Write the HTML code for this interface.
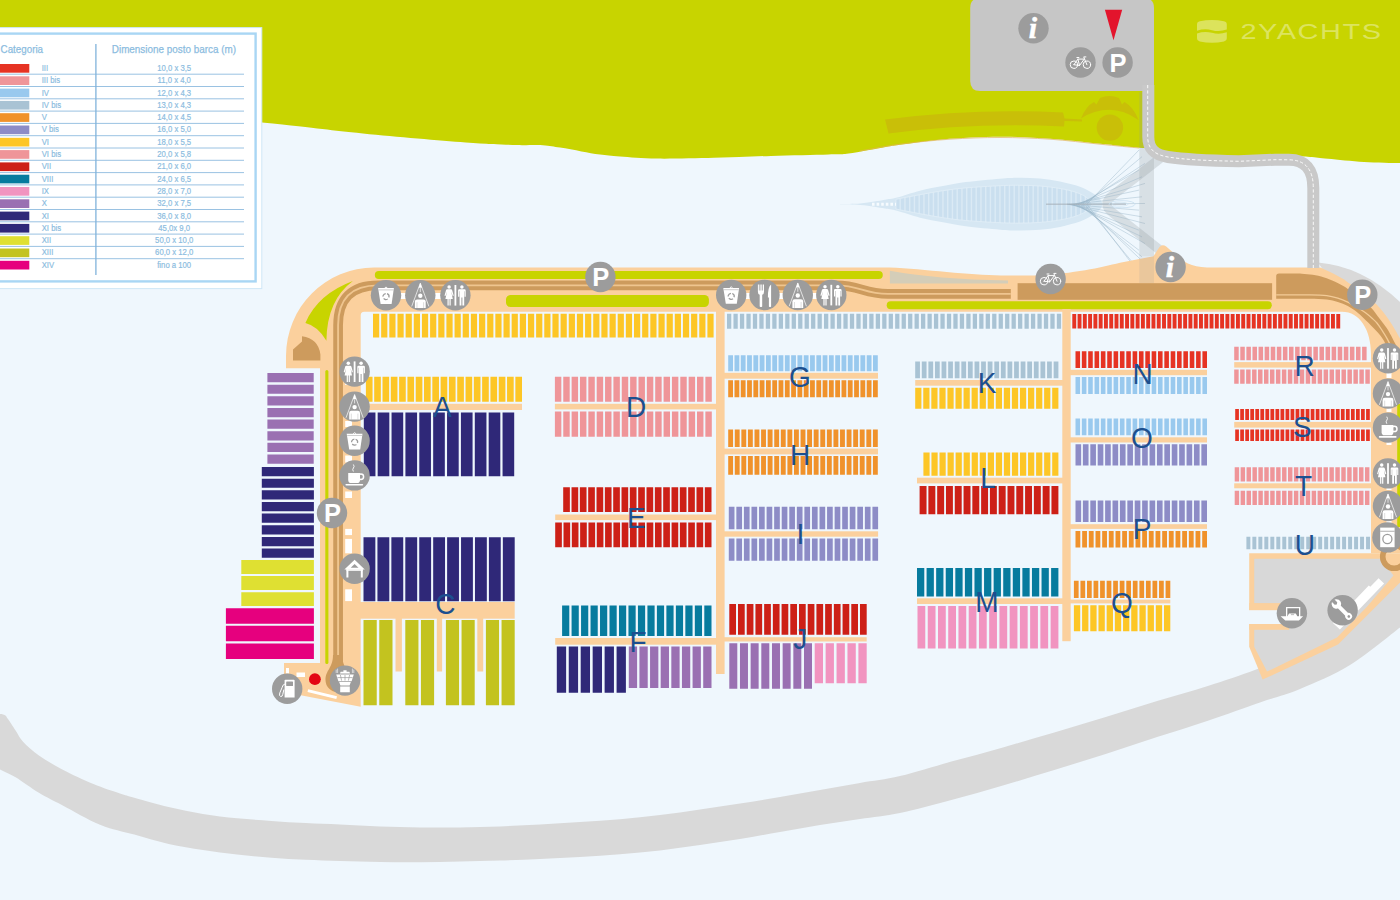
<!DOCTYPE html>
<html lang="it">
<head>
<meta charset="utf-8">
<title>Marina - piano ormeggi</title>
<style>
html,body{margin:0;padding:0;background:#eff7fd;}
body{width:1400px;height:900px;overflow:hidden;font-family:"Liberation Sans",sans-serif;}
svg{display:block;}
text{font-family:"Liberation Sans",sans-serif;}
</style>
</head>
<body>
<svg width="1400" height="900" viewBox="0 0 1400 900">
<rect x="0" y="0" width="1400" height="900" fill="#eff7fd"/>
<path fill="#d9d9d9" d="M-6 716C-5 715.67 -1.83 714.12 0 714C1.83 713.88 3.7 714.5 5 715.3C6.3 716.1 6.03 716.27 7.8 718.8C9.57 721.33 13.02 726.62 15.6 730.5C18.18 734.38 19.42 737.95 23.3 742.1C27.18 746.25 32.4 750.85 38.9 755.4C45.4 759.95 53.22 764.63 62.3 769.4C71.38 774.17 83.78 779.98 93.4 784C103.02 788.02 113.18 791.22 120 793.5C126.82 795.78 126.2 795.43 134.3 797.7C142.4 799.97 157.17 804.38 168.6 807.1C180.03 809.82 191.48 812.13 202.9 814C214.32 815.87 225.68 817.15 237.1 818.3C248.52 819.45 259.97 820.1 271.4 820.9C282.83 821.7 294.27 822.48 305.7 823.1C317.13 823.72 327.62 824.05 340 824.6C352.38 825.15 366.67 825.93 380 826.4C393.33 826.87 406.67 827.23 420 827.4C433.33 827.57 446.67 827.57 460 827.4C473.33 827.23 486.67 826.9 500 826.4C513.33 825.9 526.67 825.13 540 824.4C553.33 823.67 566.67 822.85 580 822C593.33 821.15 606.67 820.47 620 819.3C633.33 818.13 646.67 816.65 660 815C673.33 813.35 686.67 811.3 700 809.4C713.33 807.5 726.67 805.67 740 803.6C753.33 801.53 766.67 799.27 780 797C793.33 794.73 806.67 792.33 820 790C833.33 787.67 846.67 785.32 860 783C873.33 780.68 884.77 779.67 900 776.1C915.23 772.53 934.25 766.38 951.4 761.6C968.55 756.82 985.75 752.25 1002.9 747.4C1020.05 742.55 1037.17 737.55 1054.3 732.5C1071.43 727.45 1088.57 722.33 1105.7 717.1C1122.83 711.87 1139.95 706.33 1157.1 701.1C1174.25 695.87 1191.88 691.05 1208.6 685.7C1225.32 680.35 1237.17 676.62 1257.4 669C1277.63 661.38 1306.23 658.17 1330 640C1353.77 621.83 1388.33 573.33 1400 560L1400 627.5C1391.67 633.75 1366.67 654.75 1350 665C1333.33 675.25 1315 682.77 1300 689C1285 695.23 1275.23 697.17 1260 702.4C1244.77 707.63 1225.75 714.62 1208.6 720.4C1191.45 726.18 1174.25 731.52 1157.1 737.1C1139.95 742.68 1122.83 748.42 1105.7 753.9C1088.57 759.38 1071.43 764.73 1054.3 770C1037.17 775.27 1020.05 780.48 1002.9 785.5C985.75 790.52 968.55 795.52 951.4 800.1C934.25 804.68 915.23 809.85 900 813C884.77 816.15 873.33 817 860 819C846.67 821 833.33 822.83 820 825C806.67 827.17 793.33 829.67 780 832C766.67 834.33 753.33 836.83 740 839C726.67 841.17 713.33 843.1 700 845C686.67 846.9 673.33 848.87 660 850.4C646.67 851.93 633.33 853.1 620 854.2C606.67 855.3 593.33 856.2 580 857C566.67 857.8 553.33 858.4 540 859C526.67 859.6 513.33 860.17 500 860.6C486.67 861.03 473.33 861.33 460 861.6C446.67 861.87 433.33 862.13 420 862.2C406.67 862.27 393.33 862.2 380 862C366.67 861.8 352.38 861.37 340 861C327.62 860.63 317.13 860.35 305.7 859.8C294.27 859.25 282.83 858.57 271.4 857.7C259.97 856.83 248.52 855.88 237.1 854.6C225.68 853.32 214.32 851.77 202.9 850C191.48 848.23 180.03 846.57 168.6 844C157.17 841.43 145.73 837.82 134.3 834.6C122.87 831.38 112 829.6 100 824.7C88 819.8 72.48 810.53 62.3 805.2C52.12 799.87 46.68 797.37 38.9 792.7C31.12 788.03 22.08 781.08 15.6 777.2C9.12 773.32 3.6 771.27 0 769.4C-3.6 767.53 -5 766.57 -6 766Z"/>
<path fill="#c8d400" d="M0 0H1400V163C1394 163 1376 162.73 1364 162C1352 161.27 1337 159.63 1328 158.8C1319 157.97 1316.33 157.47 1310 157C1303.67 156.53 1301.17 156 1290 156C1278.83 156 1263 157.5 1243 157C1223 156.5 1184.72 154.33 1170 153C1155.28 151.67 1159.87 149.88 1154.7 149C1149.53 148.12 1148.12 148.57 1139 147.7C1129.88 146.82 1114.83 145.24 1100 143.75C1085.17 142.26 1066.67 139.91 1050 138.75C1033.33 137.59 1017.85 136.69 1000 136.8C982.15 136.91 959.57 138.07 942.9 139.4C926.23 140.73 909.53 143.52 900 144.8C890.47 146.08 894.27 145.63 885.7 147.1C877.13 148.57 858.12 152.37 848.6 153.6C839.08 154.83 841.53 154.12 828.6 154.5C815.67 154.88 790.1 155.35 771 155.9C751.9 156.45 733 157.35 714 157.8C695 158.25 672.67 158.8 657 158.6C641.33 158.4 629.5 157.28 620 156.6C610.5 155.92 606.43 155.37 600 154.5C593.57 153.63 588.07 152.55 581.4 151.4C574.73 150.25 566.42 148.63 560 147.6C553.58 146.57 550.07 145.63 542.9 145.2C535.73 144.77 529.87 145.47 517 145C504.13 144.53 491.38 144.33 465.7 142.4C440.02 140.47 396.85 136.72 362.9 133.4C328.95 130.08 322.48 128.73 262 122.5C201.52 116.27 43.67 100.42 0 96Z"/>
<path fill="none" stroke="#e2b45a" stroke-width="1" opacity=".7" d="M1139 148C1132.5 147.37 1114.83 145.67 1100 144.2C1085.17 142.73 1066.67 140.32 1050 139.2C1033.33 138.08 1016.67 137.5 1000 137.5C983.33 137.5 966.67 138.08 950 139.2C933.33 140.32 915 142.23 900 144.2C885 146.17 866.67 149.87 860 151"/>
<path fill="#c9bf08" d="M885 119.5Q975 108 1063 112.5L1064.5 118.5L1082 119.5L1082 121.5L1064.5 121L1064 126.5Q975 122 888.5 133.5Z"/>
<path fill="#c9bf08" d="M1081 118.5Q1086 106 1094 102L1096.5 104.5L1100 98Q1109.5 94.2 1119 98L1122 104.5L1124.5 102Q1133.5 107 1138.5 120Q1124 109.8 1109.5 109.8Q1094 109.8 1081 118.5Z"/>
<circle cx="1109.9" cy="127.6" r="13.2" fill="#c9bf08"/>
<path fill="#c6c6c6" d="M970.2 8Q970.2 -2 980.2 -2H1144Q1154 -2 1154 8V91H980.2Q970.2 91 970.2 81Z"/>
<path fill="none" stroke="#90959a" stroke-opacity=".26" stroke-width="9.5" stroke-linejoin="round" d="M1160 158.5L1113 195Q1101 204 1113 213L1161 251"/>
<path fill="#d6e7f3" d="M840 204.1C843.33 203.98 854.28 203.82 860 203.4C865.72 202.98 870.13 202.2 874.3 201.6C878.47 201 881.22 200.47 885 199.8C888.78 199.13 891.17 199.12 897 197.6C902.83 196.08 912.35 192.62 920 190.7C927.65 188.78 935.28 187.53 942.9 186.1C950.52 184.67 956.18 183.33 965.7 182.1C975.22 180.87 990.95 179.42 1000 178.7C1009.05 177.98 1013.33 177.82 1020 177.8C1026.67 177.78 1033.33 177.98 1040 178.6C1046.67 179.22 1053.33 180.13 1060 181.5C1066.67 182.87 1074.67 184.92 1080 186.8C1085.33 188.68 1088.67 190.77 1092 192.8C1095.33 194.83 1098.25 197.1 1100 199C1101.75 200.9 1102.08 203.33 1102.5 204.2C1102.08 205.07 1101.75 207.5 1100 209.4C1098.25 211.3 1095.33 213.57 1092 215.6C1088.67 217.63 1085.33 219.72 1080 221.6C1074.67 223.48 1066.67 225.53 1060 226.9C1053.33 228.27 1046.67 229.18 1040 229.8C1033.33 230.42 1026.67 230.62 1020 230.6C1013.33 230.58 1009.05 230.42 1000 229.7C990.95 228.98 975.22 227.53 965.7 226.3C956.18 225.07 950.52 223.73 942.9 222.3C935.28 220.87 927.65 219.62 920 217.7C912.35 215.78 902.83 212.32 897 210.8C891.17 209.28 888.78 209.27 885 208.6C881.22 207.93 878.47 207.4 874.3 206.8C870.13 206.2 865.72 205.42 860 205C854.28 204.58 843.33 204.42 840 204.3Z"/>
<clipPath id="lens"><path d="M896 199.3C900 198.53 912.18 196.13 920 194.7C927.82 193.27 935.28 191.83 942.9 190.7C950.52 189.57 956.18 188.73 965.7 187.9C975.22 187.07 990.95 186.13 1000 185.7C1009.05 185.27 1013.33 185.25 1020 185.3C1026.67 185.35 1033.33 185.47 1040 186C1046.67 186.53 1054.17 187.5 1060 188.5C1065.83 189.5 1070.67 190.58 1075 192C1079.33 193.42 1083.08 194.97 1086 197C1088.92 199.03 1091.42 203 1092.5 204.2C1091.42 205.4 1088.92 209.37 1086 211.4C1083.08 213.43 1079.33 214.98 1075 216.4C1070.67 217.82 1065.83 218.9 1060 219.9C1054.17 220.9 1046.67 221.87 1040 222.4C1033.33 222.93 1026.67 223.05 1020 223.1C1013.33 223.15 1009.05 223.13 1000 222.7C990.95 222.27 975.22 221.33 965.7 220.5C956.18 219.67 950.52 218.83 942.9 217.7C935.28 216.57 927.82 215.13 920 213.7C912.18 212.27 900 209.87 896 209.1Z"/></clipPath>
<path fill="#cadfef" d="M896 199.3C900 198.53 912.18 196.13 920 194.7C927.82 193.27 935.28 191.83 942.9 190.7C950.52 189.57 956.18 188.73 965.7 187.9C975.22 187.07 990.95 186.13 1000 185.7C1009.05 185.27 1013.33 185.25 1020 185.3C1026.67 185.35 1033.33 185.47 1040 186C1046.67 186.53 1054.17 187.5 1060 188.5C1065.83 189.5 1070.67 190.58 1075 192C1079.33 193.42 1083.08 194.97 1086 197C1088.92 199.03 1091.42 203 1092.5 204.2C1091.42 205.4 1088.92 209.37 1086 211.4C1083.08 213.43 1079.33 214.98 1075 216.4C1070.67 217.82 1065.83 218.9 1060 219.9C1054.17 220.9 1046.67 221.87 1040 222.4C1033.33 222.93 1026.67 223.05 1020 223.1C1013.33 223.15 1009.05 223.13 1000 222.7C990.95 222.27 975.22 221.33 965.7 220.5C956.18 219.67 950.52 218.83 942.9 217.7C935.28 216.57 927.82 215.13 920 213.7C912.18 212.27 900 209.87 896 209.1Z"/>
<path clip-path="url(#lens)" stroke="#dbeaf5" stroke-width="1.4" fill="none" d="M900.2 182V227M904.95 182V227M909.7 182V227M914.45 182V227M919.2 182V227M923.95 182V227M928.7 182V227M933.45 182V227M938.2 182V227M942.95 182V227M947.7 182V227M952.45 182V227M957.2 182V227M961.95 182V227M966.7 182V227M971.45 182V227M976.2 182V227M980.95 182V227M985.7 182V227M990.45 182V227M995.2 182V227M999.95 182V227M1004.7 182V227M1009.45 182V227M1014.2 182V227M1018.95 182V227M1023.7 182V227M1028.45 182V227M1033.2 182V227M1037.95 182V227M1042.7 182V227M1047.45 182V227M1052.2 182V227M1056.95 182V227M1061.7 182V227M1066.45 182V227M1071.2 182V227M1075.95 182V227M1080.7 182V227M1085.45 182V227"/>
<path fill="none" stroke="#e2eff8" stroke-width=".8" d="M896 199.3C900 198.53 912.18 196.13 920 194.7C927.82 193.27 935.28 191.83 942.9 190.7C950.52 189.57 956.18 188.73 965.7 187.9C975.22 187.07 990.95 186.13 1000 185.7C1009.05 185.27 1013.33 185.25 1020 185.3C1026.67 185.35 1033.33 185.47 1040 186C1046.67 186.53 1054.17 187.5 1060 188.5C1065.83 189.5 1070.67 190.58 1075 192C1079.33 193.42 1083.08 194.97 1086 197C1088.92 199.03 1091.42 203 1092.5 204.2C1091.42 205.4 1088.92 209.37 1086 211.4C1083.08 213.43 1079.33 214.98 1075 216.4C1070.67 217.82 1065.83 218.9 1060 219.9C1054.17 220.9 1046.67 221.87 1040 222.4C1033.33 222.93 1026.67 223.05 1020 223.1C1013.33 223.15 1009.05 223.13 1000 222.7C990.95 222.27 975.22 221.33 965.7 220.5C956.18 219.67 950.52 218.83 942.9 217.7C935.28 216.57 927.82 215.13 920 213.7C912.18 212.27 900 209.87 896 209.1Z"/>
<path stroke="#f6fbfe" stroke-width="3" stroke-dasharray="2.6 2" fill="none" d="M872 204.2H896"/>
<path stroke="#94b2c6" stroke-width=".6" stroke-opacity=".7" fill="none" d="M1086.9 204.2L1139 150M1084.7 204.2L1142 156.68M1082.5 204.2L1145 163.37M1080.3 204.2L1139 170.05M1078.1 204.2L1142 176.74M1075.9 204.2L1145 183.42M1073.7 204.2L1139 190.11M1071.5 204.2L1142 196.79M1069.3 204.2L1145 203.47M1067.1 204.2L1139 210.16M1067.1 204.2L1142 216.84M1069.3 204.2L1145 223.53M1071.5 204.2L1139 230.21M1073.7 204.2L1142 236.89M1075.9 204.2L1145 243.58M1078.1 204.2L1139 250.26M1080.3 204.2L1142 256.95M1082.5 204.2L1145 263.63M1084.7 204.2L1139 270.32M1086.9 204.2L1142 277"/>
<path stroke="#a3aeb6" stroke-width="1.6" stroke-opacity=".6" fill="none" d="M1046 204.2H1126"/>
<ellipse cx="1122" cy="204.2" rx="13" ry="3.6" fill="none" stroke="#c9e0f0" stroke-width=".8"/>
<ellipse cx="1120" cy="204.2" rx="8" ry="2" fill="none" stroke="#c9e0f0" stroke-width=".6"/>
<path fill="#d9d9d9" d="M1318 262.5Q1362 266 1400 302V345L1330 280Z"/>
<path fill="#fbd09d" d="M284 663H320V368.3H286V356A88 88.5 0 0 1 374 267.5H889.5C925 269 970 275.4 1001 275.4H1036C1075 273.5 1100 267.5 1120 262.7L1153.5 256.2L1159.3 247.2Q1162.4 243.4 1166.2 246.6C1178 256.5 1186 267.4 1207 267.4H1320.5C1322.45 268.4 1328.48 271.02 1332.2 272.9C1335.92 274.78 1339.98 277.07 1342.8 278.8C1345.62 280.53 1345.73 280.93 1349.1 283.3C1352.47 285.67 1358.42 289.45 1363 293C1367.58 296.55 1372.27 300.1 1376.6 304.6C1380.93 309.1 1385.1 314.37 1389 320C1392.9 325.63 1397.17 333.4 1400 338.4C1402.83 343.4 1405 348.07 1406 350L1400 350V553.3H1371V354C1371 330 1360 311.7 1342 311.7H364.2Q360.7 311.7 360.7 315.2V706.8L302 695.5L284 690Z"/>
<rect x="1139.3" y="92" width="14.7" height="164" fill="#90959a" opacity=".24"/>
<rect x="1139.3" y="256" width="14.7" height="27.2" fill="#90959a" opacity=".15"/>
<path fill="none" stroke="#c9c9c9" stroke-width="12" d="M1148.3 85V137C1148.3 150 1156 155 1168 157C1185 159.6 1205 160.6 1239 161.3L1275 159.7L1289 159.8Q1313.3 160 1313.3 188V268"/>
<path fill="none" stroke="#fff" stroke-width=".9" stroke-dasharray="3.2 2.2" d="M1147.7 85V137C1147.7 150 1156 155 1168 157C1185 159.6 1205 160.6 1239 161.3L1275 159.7L1289 159.8Q1313.3 160 1313.3 188V268"/>
<rect x="374.8" y="270.9" width="508" height="8.1" rx="4.05" fill="#c8d400"/>
<rect x="506" y="295" width="202.9" height="12" rx="4.5" fill="#c8d400"/>
<rect x="886.7" y="301.2" width="385.1" height="8" rx="4" fill="#c8d400"/>
<path fill="#c8d400" d="M352.9 281.1Q318 294 305.4 322.9Q318 326 326.4 340.7Q327 300 352.9 281.1Z"/>
<rect x="325.3" y="370" width="3.1" height="294" fill="#c8d400" rx="1.5"/>
<rect x="1397.2" y="404" width="6" height="123" fill="#c8d400"/>
<path fill="#cd9b5d" d="M293 360.4V349.5L302 341.5V336.2Q318.5 338.5 320.4 354.5V360.4Z"/>
<path fill="none" stroke="#cd9b5d" stroke-width="9.7" d="M338.1 664V325.35Q338.1 285.35 378.1 285.35H836C860 285.35 864 293.9 888 293.9H1010.8"/>
<path fill="none" stroke="#efc58f" stroke-width="1.9" d="M338.1 664V325.35Q338.1 285.35 378.1 285.35H836C860 285.35 864 293.9 888 293.9H1010.8"/>
<path fill="#cd9b5d" d="M333 655C333 668 325.5 670 325.5 680A12 12 0 0 0 349.5 680C349.5 670 342.2 668 342.2 655Z"/>
<path fill="#d4cdb8" d="M889.9 270.7Q935 279.2 1008 280.4V283.6H889.9Z"/>
<rect x="1017.6" y="283.2" width="254.5" height="16.6" fill="#cd9b5d"/>
<path fill="#cd9b5d" d="M1276.2 298.8V276Q1276.2 273.4 1279 273.4H1300C1301.67 273.6 1306.48 274.1 1310 274.6C1313.52 275.1 1317.4 275.4 1321.1 276.4C1324.8 277.4 1328.5 278.98 1332.2 280.6C1335.9 282.22 1340.7 284.72 1343.3 286.1C1345.9 287.48 1345.02 286.97 1347.8 288.9C1350.58 290.83 1356.12 294.55 1360 297.7C1363.88 300.85 1367.88 304.37 1371.1 307.8C1374.32 311.23 1376.7 314.92 1379.3 318.3C1381.9 321.68 1384.45 324.67 1386.7 328.1C1388.95 331.53 1390.58 334.75 1392.8 338.9C1395.02 343.05 1398.3 349.48 1400 353C1401.7 356.52 1402.5 358.83 1403 360L1393 360C1392.67 359.17 1392.7 358.52 1391 355C1389.3 351.48 1385.72 343.38 1382.8 338.9C1379.88 334.42 1376.68 331.53 1373.5 328.1C1370.32 324.67 1366.43 320.95 1363.7 318.3C1360.97 315.65 1359.75 314.23 1357.1 312.2C1354.45 310.17 1351.02 307.78 1347.8 306.1C1344.58 304.42 1341.32 303.18 1337.8 302.1C1334.28 301.02 1331.33 300.15 1326.7 299.6C1322.07 299.05 1315.28 298.93 1310 298.8C1304.72 298.67 1297.5 298.8 1295 298.8Z"/>
<path fill="none" stroke="#f3cb97" stroke-width="1.3" d="M1276.2 294.9C1281.83 294.9 1301.58 294.77 1310 294.9C1318.42 295.03 1322.07 295.15 1326.7 295.7C1331.33 296.25 1334.28 297.13 1337.8 298.2C1341.32 299.27 1344.6 300.6 1347.8 302.1C1351 303.6 1354.05 305.42 1357 307.2C1359.95 308.98 1362.95 310.92 1365.5 312.8C1368.05 314.68 1370.4 316.8 1372.3 318.5C1374.2 320.2 1375.37 321.17 1376.9 323C1378.43 324.83 1379.78 326.85 1381.5 329.5C1383.22 332.15 1385.33 335.32 1387.25 338.9C1389.17 342.48 1391.54 347.65 1393 351C1394.46 354.35 1395.5 357.67 1396 359"/>
<path fill="#fbd09d" d="M1249.2 553.3H1400V582.5L1338 644.5L1262.6 679.6L1249.2 646.7Z"/>
<path fill="#d8d8d8" d="M1254.2 558.7H1381L1393.5 575.6L1367.2 606.6L1337 637.6L1267 671.6L1254.2 646.7Z"/>
<rect x="1249.2" y="603.1" width="40" height="26.7" fill="#fbd09d"/>
<rect x="1249" y="610.2" width="36" height="13.8" fill="#eff7fd"/>
<circle cx="1394.2" cy="556.8" r="11.5" fill="none" stroke="#cd9b5d" stroke-width="5.6"/>
<path fill="#fff" d="M1384.1 583.5L1339.9 629.6L1332.9 622.9L1368.8 585.5L1370.3 586.8L1378.6 578.2Z"/>
<rect x="345.2" y="380.5" width="6.8" height="4.5" fill="#fff"/>
<rect x="345.2" y="421" width="6.8" height="6" fill="#fff"/>
<rect x="345.2" y="455.5" width="6.8" height="7" fill="#fff"/>
<rect x="345.2" y="491.5" width="6.8" height="6.5" fill="#fff"/>
<rect x="345.2" y="528.9" width="6.8" height="6.2" fill="#fff"/>
<rect x="345.2" y="538.9" width="6.8" height="14.4" fill="#fff"/>
<rect x="345.2" y="589.3" width="6.8" height="11.8" fill="#fff"/>
<rect x="398" y="293" width="10" height="6" fill="#fff"/>
<rect x="433" y="293" width="10" height="6" fill="#fff"/>
<rect x="744" y="293" width="8" height="6" fill="#fff"/>
<rect x="777" y="293" width="8" height="6" fill="#fff"/>
<rect x="811" y="293" width="8" height="6" fill="#fff"/>
<rect x="1386.5" y="372.5" width="5" height="5.5" fill="#fff"/>
<rect x="1386.5" y="407" width="5" height="5" fill="#fff"/>
<rect x="1386.5" y="441" width="5" height="4" fill="#fff"/>
<rect x="1386.5" y="486" width="5" height="4" fill="#fff"/>
<rect x="1386.5" y="519" width="5" height="4" fill="#fff"/>
<rect x="286" y="668" width="3" height="5.5" fill="#fff"/>
<rect x="296.5" y="672.5" width="8.5" height="4.5" fill="#fff"/>
<path fill="#fff" d="M308.2 689.3L337 696.2L336.3 699L307.5 692.1Z"/>
<circle cx="314.9" cy="679.2" r="5.9" fill="#e30613"/>
<rect x="716" y="309" width="8.6" height="365" fill="#fbd09d"/>
<rect x="1062.3" y="309" width="8.4" height="332.2" fill="#fbd09d"/>
<rect x="360" y="403.8" width="162" height="6.2" fill="#fbd09d"/>
<rect x="360" y="602" width="154.7" height="16.7" fill="#fbd09d"/>
<rect x="395.5" y="618" width="6.4" height="53.5" fill="#fbd09d"/>
<rect x="436.8" y="618" width="5.3" height="53.5" fill="#fbd09d"/>
<rect x="477.3" y="618" width="5.9" height="53.5" fill="#fbd09d"/>
<rect x="554.9" y="403.8" width="162" height="5.6" fill="#fbd09d"/>
<rect x="555.2" y="514.5" width="161" height="5.6" fill="#fbd09d"/>
<rect x="555.2" y="638" width="161" height="6.7" fill="#fbd09d"/>
<rect x="724" y="372.8" width="154" height="5.9" fill="#fbd09d"/>
<rect x="724" y="448.6" width="154" height="5.8" fill="#fbd09d"/>
<rect x="724" y="531.3" width="154.1" height="5.4" fill="#fbd09d"/>
<rect x="724" y="637.2" width="142.7" height="4.3" fill="#fbd09d"/>
<rect x="915.2" y="380" width="148" height="5.7" fill="#fbd09d"/>
<rect x="917" y="477.7" width="146" height="5.7" fill="#fbd09d"/>
<rect x="917" y="598.3" width="146" height="5.7" fill="#fbd09d"/>
<rect x="1070" y="369.8" width="137" height="5.4" fill="#fbd09d"/>
<rect x="1070" y="437.3" width="137" height="5.2" fill="#fbd09d"/>
<rect x="1070" y="524.2" width="137" height="4.7" fill="#fbd09d"/>
<rect x="1070" y="599.6" width="100.3" height="3.8" fill="#fbd09d"/>
<rect x="1234.2" y="362.1" width="138" height="5.5" fill="#fbd09d"/>
<rect x="1234.2" y="421.9" width="138" height="5.7" fill="#fbd09d"/>
<rect x="1234.2" y="483.3" width="138" height="5" fill="#fbd09d"/>
<path fill="#fdc626" d="M373 313.7h6.2v23.7h-6.2zM381.16 313.7h6.2v23.7h-6.2zM389.31 313.7h6.2v23.7h-6.2zM397.47 313.7h6.2v23.7h-6.2zM405.62 313.7h6.2v23.7h-6.2zM413.78 313.7h6.2v23.7h-6.2zM421.94 313.7h6.2v23.7h-6.2zM430.09 313.7h6.2v23.7h-6.2zM438.25 313.7h6.2v23.7h-6.2zM446.41 313.7h6.2v23.7h-6.2zM454.56 313.7h6.2v23.7h-6.2zM462.72 313.7h6.2v23.7h-6.2zM470.87 313.7h6.2v23.7h-6.2zM479.03 313.7h6.2v23.7h-6.2zM487.19 313.7h6.2v23.7h-6.2zM495.34 313.7h6.2v23.7h-6.2zM503.5 313.7h6.2v23.7h-6.2zM511.65 313.7h6.2v23.7h-6.2zM519.81 313.7h6.2v23.7h-6.2zM527.97 313.7h6.2v23.7h-6.2zM536.12 313.7h6.2v23.7h-6.2zM544.28 313.7h6.2v23.7h-6.2zM552.43 313.7h6.2v23.7h-6.2zM560.59 313.7h6.2v23.7h-6.2zM568.75 313.7h6.2v23.7h-6.2zM576.9 313.7h6.2v23.7h-6.2zM585.06 313.7h6.2v23.7h-6.2zM593.22 313.7h6.2v23.7h-6.2zM601.37 313.7h6.2v23.7h-6.2zM609.53 313.7h6.2v23.7h-6.2zM617.68 313.7h6.2v23.7h-6.2zM625.84 313.7h6.2v23.7h-6.2zM634 313.7h6.2v23.7h-6.2zM642.15 313.7h6.2v23.7h-6.2zM650.31 313.7h6.2v23.7h-6.2zM658.46 313.7h6.2v23.7h-6.2zM666.62 313.7h6.2v23.7h-6.2zM674.78 313.7h6.2v23.7h-6.2zM682.93 313.7h6.2v23.7h-6.2zM691.09 313.7h6.2v23.7h-6.2zM699.25 313.7h6.2v23.7h-6.2zM707.4 313.7h6.2v23.7h-6.2z"/>
<path fill="#a9c3d4" d="M727 313.8h4.27v15h-4.27zM733.47 313.8h4.27v15h-4.27zM739.93 313.8h4.27v15h-4.27zM746.4 313.8h4.27v15h-4.27zM752.87 313.8h4.27v15h-4.27zM759.34 313.8h4.27v15h-4.27zM765.8 313.8h4.27v15h-4.27zM772.27 313.8h4.27v15h-4.27zM778.74 313.8h4.27v15h-4.27zM785.21 313.8h4.27v15h-4.27zM791.67 313.8h4.27v15h-4.27zM798.14 313.8h4.27v15h-4.27zM804.61 313.8h4.27v15h-4.27zM811.07 313.8h4.27v15h-4.27zM817.54 313.8h4.27v15h-4.27zM824.01 313.8h4.27v15h-4.27zM830.48 313.8h4.27v15h-4.27zM836.94 313.8h4.27v15h-4.27zM843.41 313.8h4.27v15h-4.27zM849.88 313.8h4.27v15h-4.27zM856.35 313.8h4.27v15h-4.27zM862.81 313.8h4.27v15h-4.27zM869.28 313.8h4.27v15h-4.27zM875.75 313.8h4.27v15h-4.27zM882.21 313.8h4.27v15h-4.27zM888.68 313.8h4.27v15h-4.27zM895.15 313.8h4.27v15h-4.27zM901.62 313.8h4.27v15h-4.27zM908.08 313.8h4.27v15h-4.27zM914.55 313.8h4.27v15h-4.27zM921.02 313.8h4.27v15h-4.27zM927.49 313.8h4.27v15h-4.27zM933.95 313.8h4.27v15h-4.27zM940.42 313.8h4.27v15h-4.27zM946.89 313.8h4.27v15h-4.27zM953.36 313.8h4.27v15h-4.27zM959.82 313.8h4.27v15h-4.27zM966.29 313.8h4.27v15h-4.27zM972.76 313.8h4.27v15h-4.27zM979.22 313.8h4.27v15h-4.27zM985.69 313.8h4.27v15h-4.27zM992.16 313.8h4.27v15h-4.27zM998.63 313.8h4.27v15h-4.27zM1005.09 313.8h4.27v15h-4.27zM1011.56 313.8h4.27v15h-4.27zM1018.03 313.8h4.27v15h-4.27zM1024.5 313.8h4.27v15h-4.27zM1030.96 313.8h4.27v15h-4.27zM1037.43 313.8h4.27v15h-4.27zM1043.9 313.8h4.27v15h-4.27zM1050.36 313.8h4.27v15h-4.27zM1056.83 313.8h4.27v15h-4.27z"/>
<path fill="#e63323" d="M1072.3 314.1h3.91v14.5h-3.91zM1077.58 314.1h3.91v14.5h-3.91zM1082.86 314.1h3.91v14.5h-3.91zM1088.14 314.1h3.91v14.5h-3.91zM1093.42 314.1h3.91v14.5h-3.91zM1098.7 314.1h3.91v14.5h-3.91zM1103.98 314.1h3.91v14.5h-3.91zM1109.26 314.1h3.91v14.5h-3.91zM1114.54 314.1h3.91v14.5h-3.91zM1119.82 314.1h3.91v14.5h-3.91zM1125.1 314.1h3.91v14.5h-3.91zM1130.38 314.1h3.91v14.5h-3.91zM1135.66 314.1h3.91v14.5h-3.91zM1140.94 314.1h3.91v14.5h-3.91zM1146.22 314.1h3.91v14.5h-3.91zM1151.5 314.1h3.91v14.5h-3.91zM1156.78 314.1h3.91v14.5h-3.91zM1162.06 314.1h3.91v14.5h-3.91zM1167.34 314.1h3.91v14.5h-3.91zM1172.62 314.1h3.91v14.5h-3.91zM1177.9 314.1h3.91v14.5h-3.91zM1183.18 314.1h3.91v14.5h-3.91zM1188.46 314.1h3.91v14.5h-3.91zM1193.74 314.1h3.91v14.5h-3.91zM1199.02 314.1h3.91v14.5h-3.91zM1204.3 314.1h3.91v14.5h-3.91zM1209.58 314.1h3.91v14.5h-3.91zM1214.86 314.1h3.91v14.5h-3.91zM1220.14 314.1h3.91v14.5h-3.91zM1225.42 314.1h3.91v14.5h-3.91zM1230.7 314.1h3.91v14.5h-3.91zM1235.98 314.1h3.91v14.5h-3.91zM1241.26 314.1h3.91v14.5h-3.91zM1246.54 314.1h3.91v14.5h-3.91zM1251.82 314.1h3.91v14.5h-3.91zM1257.1 314.1h3.91v14.5h-3.91zM1262.37 314.1h3.91v14.5h-3.91zM1267.65 314.1h3.91v14.5h-3.91zM1272.93 314.1h3.91v14.5h-3.91zM1278.21 314.1h3.91v14.5h-3.91zM1283.49 314.1h3.91v14.5h-3.91zM1288.77 314.1h3.91v14.5h-3.91zM1294.05 314.1h3.91v14.5h-3.91zM1299.33 314.1h3.91v14.5h-3.91zM1304.61 314.1h3.91v14.5h-3.91zM1309.89 314.1h3.91v14.5h-3.91zM1315.17 314.1h3.91v14.5h-3.91zM1320.45 314.1h3.91v14.5h-3.91zM1325.73 314.1h3.91v14.5h-3.91zM1331.01 314.1h3.91v14.5h-3.91zM1336.29 314.1h3.91v14.5h-3.91z"/>
<path fill="#9a70b2" d="M267.4 373h46.3v9.2h-46.3zM267.4 384.64h46.3v9.2h-46.3zM267.4 396.29h46.3v9.2h-46.3zM267.4 407.93h46.3v9.2h-46.3zM267.4 419.57h46.3v9.2h-46.3zM267.4 431.22h46.3v9.2h-46.3zM267.4 442.86h46.3v9.2h-46.3zM267.4 454.5h46.3v9.2h-46.3z"/>
<path fill="#2f2878" d="M261.8 467h52.1v9.21h-52.1zM261.8 478.66h52.1v9.21h-52.1zM261.8 490.31h52.1v9.21h-52.1zM261.8 501.97h52.1v9.21h-52.1zM261.8 513.62h52.1v9.21h-52.1zM261.8 525.28h52.1v9.21h-52.1zM261.8 536.94h52.1v9.21h-52.1zM261.8 548.59h52.1v9.21h-52.1z"/>
<path fill="#dfe032" d="M241.3 560h72.6v13.97h-72.6zM241.3 576.06h72.6v13.97h-72.6zM241.3 592.13h72.6v13.97h-72.6z"/>
<path fill="#e6007e" d="M225.9 608.2h88v15.52h-88zM225.9 625.84h88v15.52h-88zM225.9 643.48h88v15.52h-88z"/>
<path fill="#fdc626" d="M365.9 376.8h6.64v24.9h-6.64zM374.2 376.8h6.64v24.9h-6.64zM382.51 376.8h6.64v24.9h-6.64zM390.81 376.8h6.64v24.9h-6.64zM399.11 376.8h6.64v24.9h-6.64zM407.42 376.8h6.64v24.9h-6.64zM415.72 376.8h6.64v24.9h-6.64zM424.02 376.8h6.64v24.9h-6.64zM432.33 376.8h6.64v24.9h-6.64zM440.63 376.8h6.64v24.9h-6.64zM448.93 376.8h6.64v24.9h-6.64zM457.24 376.8h6.64v24.9h-6.64zM465.54 376.8h6.64v24.9h-6.64zM473.84 376.8h6.64v24.9h-6.64zM482.14 376.8h6.64v24.9h-6.64zM490.45 376.8h6.64v24.9h-6.64zM498.75 376.8h6.64v24.9h-6.64zM507.05 376.8h6.64v24.9h-6.64zM515.36 376.8h6.64v24.9h-6.64z"/>
<path fill="#2f2878" d="M363.8 412.5h11.65v63.8h-11.65zM377.67 412.5h11.65v63.8h-11.65zM391.55 412.5h11.65v63.8h-11.65zM405.42 412.5h11.65v63.8h-11.65zM419.3 412.5h11.65v63.8h-11.65zM433.17 412.5h11.65v63.8h-11.65zM447.05 412.5h11.65v63.8h-11.65zM460.92 412.5h11.65v63.8h-11.65zM474.8 412.5h11.65v63.8h-11.65zM488.67 412.5h11.65v63.8h-11.65zM502.55 412.5h11.65v63.8h-11.65z"/>
<path fill="#2f2878" d="M363.5 537.3h11.85v64h-11.85zM377.44 537.3h11.85v64h-11.85zM391.37 537.3h11.85v64h-11.85zM405.31 537.3h11.85v64h-11.85zM419.24 537.3h11.85v64h-11.85zM433.18 537.3h11.85v64h-11.85zM447.11 537.3h11.85v64h-11.85zM461.05 537.3h11.85v64h-11.85zM474.98 537.3h11.85v64h-11.85zM488.92 537.3h11.85v64h-11.85zM502.85 537.3h11.85v64h-11.85z"/>
<path fill="#c3c31f" d="M363.5 620h13.24v85.3h-13.24zM379.26 620h13.24v85.3h-13.24z"/>
<path fill="#c3c31f" d="M405.3 620h13.15v85.3h-13.15zM420.95 620h13.15v85.3h-13.15z"/>
<path fill="#c3c31f" d="M445.9 620h13.15v85.3h-13.15zM461.55 620h13.15v85.3h-13.15z"/>
<path fill="#c3c31f" d="M485.9 620h13.15v85.3h-13.15zM501.55 620h13.15v85.3h-13.15z"/>
<path fill="#ef9599" d="M554.9 376.8h6.44v24.9h-6.44zM563.26 376.8h6.44v24.9h-6.44zM571.62 376.8h6.44v24.9h-6.44zM579.98 376.8h6.44v24.9h-6.44zM588.34 376.8h6.44v24.9h-6.44zM596.7 376.8h6.44v24.9h-6.44zM605.05 376.8h6.44v24.9h-6.44zM613.41 376.8h6.44v24.9h-6.44zM621.77 376.8h6.44v24.9h-6.44zM630.13 376.8h6.44v24.9h-6.44zM638.49 376.8h6.44v24.9h-6.44zM646.85 376.8h6.44v24.9h-6.44zM655.21 376.8h6.44v24.9h-6.44zM663.57 376.8h6.44v24.9h-6.44zM671.93 376.8h6.44v24.9h-6.44zM680.29 376.8h6.44v24.9h-6.44zM688.65 376.8h6.44v24.9h-6.44zM697 376.8h6.44v24.9h-6.44zM705.36 376.8h6.44v24.9h-6.44z"/>
<path fill="#ef9599" d="M554.9 411.5h6.44v25.2h-6.44zM563.26 411.5h6.44v25.2h-6.44zM571.62 411.5h6.44v25.2h-6.44zM579.98 411.5h6.44v25.2h-6.44zM588.34 411.5h6.44v25.2h-6.44zM596.7 411.5h6.44v25.2h-6.44zM605.05 411.5h6.44v25.2h-6.44zM613.41 411.5h6.44v25.2h-6.44zM621.77 411.5h6.44v25.2h-6.44zM630.13 411.5h6.44v25.2h-6.44zM638.49 411.5h6.44v25.2h-6.44zM646.85 411.5h6.44v25.2h-6.44zM655.21 411.5h6.44v25.2h-6.44zM663.57 411.5h6.44v25.2h-6.44zM671.93 411.5h6.44v25.2h-6.44zM680.29 411.5h6.44v25.2h-6.44zM688.65 411.5h6.44v25.2h-6.44zM697 411.5h6.44v25.2h-6.44zM705.36 411.5h6.44v25.2h-6.44z"/>
<path fill="#cd2017" d="M563.2 487.3h6.67v24.6h-6.67zM571.53 487.3h6.67v24.6h-6.67zM579.86 487.3h6.67v24.6h-6.67zM588.19 487.3h6.67v24.6h-6.67zM596.53 487.3h6.67v24.6h-6.67zM604.86 487.3h6.67v24.6h-6.67zM613.19 487.3h6.67v24.6h-6.67zM621.52 487.3h6.67v24.6h-6.67zM629.85 487.3h6.67v24.6h-6.67zM638.18 487.3h6.67v24.6h-6.67zM646.51 487.3h6.67v24.6h-6.67zM654.85 487.3h6.67v24.6h-6.67zM663.18 487.3h6.67v24.6h-6.67zM671.51 487.3h6.67v24.6h-6.67zM679.84 487.3h6.67v24.6h-6.67zM688.17 487.3h6.67v24.6h-6.67zM696.5 487.3h6.67v24.6h-6.67zM704.83 487.3h6.67v24.6h-6.67z"/>
<path fill="#cd2017" d="M555.2 522.5h6.65v24.8h-6.65zM563.51 522.5h6.65v24.8h-6.65zM571.83 522.5h6.65v24.8h-6.65zM580.14 522.5h6.65v24.8h-6.65zM588.46 522.5h6.65v24.8h-6.65zM596.77 522.5h6.65v24.8h-6.65zM605.08 522.5h6.65v24.8h-6.65zM613.4 522.5h6.65v24.8h-6.65zM621.71 522.5h6.65v24.8h-6.65zM630.02 522.5h6.65v24.8h-6.65zM638.34 522.5h6.65v24.8h-6.65zM646.65 522.5h6.65v24.8h-6.65zM654.97 522.5h6.65v24.8h-6.65zM663.28 522.5h6.65v24.8h-6.65zM671.59 522.5h6.65v24.8h-6.65zM679.91 522.5h6.65v24.8h-6.65zM688.22 522.5h6.65v24.8h-6.65zM696.54 522.5h6.65v24.8h-6.65zM704.85 522.5h6.65v24.8h-6.65z"/>
<path fill="#077b9e" d="M562.1 605.5h7.2v30.4h-7.2zM571.58 605.5h7.2v30.4h-7.2zM581.06 605.5h7.2v30.4h-7.2zM590.54 605.5h7.2v30.4h-7.2zM600.02 605.5h7.2v30.4h-7.2zM609.5 605.5h7.2v30.4h-7.2zM618.98 605.5h7.2v30.4h-7.2zM628.46 605.5h7.2v30.4h-7.2zM637.94 605.5h7.2v30.4h-7.2zM647.42 605.5h7.2v30.4h-7.2zM656.9 605.5h7.2v30.4h-7.2zM666.38 605.5h7.2v30.4h-7.2zM675.86 605.5h7.2v30.4h-7.2zM685.34 605.5h7.2v30.4h-7.2zM694.82 605.5h7.2v30.4h-7.2zM704.3 605.5h7.2v30.4h-7.2z"/>
<path fill="#2f2878" d="M556.8 646.5h9.32v46.2h-9.32zM568.76 646.5h9.32v46.2h-9.32zM580.71 646.5h9.32v46.2h-9.32zM592.67 646.5h9.32v46.2h-9.32zM604.62 646.5h9.32v46.2h-9.32zM616.58 646.5h9.32v46.2h-9.32z"/>
<path fill="#9a70b2" d="M628.8 646.5h8.29v41.6h-8.29zM639.43 646.5h8.29v41.6h-8.29zM650.06 646.5h8.29v41.6h-8.29zM660.69 646.5h8.29v41.6h-8.29zM671.32 646.5h8.29v41.6h-8.29zM681.95 646.5h8.29v41.6h-8.29zM692.58 646.5h8.29v41.6h-8.29zM703.21 646.5h8.29v41.6h-8.29z"/>
<path fill="#99c9ee" d="M728.2 355.2h4.79v16h-4.79zM734.5 355.2h4.79v16h-4.79zM740.79 355.2h4.79v16h-4.79zM747.09 355.2h4.79v16h-4.79zM753.39 355.2h4.79v16h-4.79zM759.68 355.2h4.79v16h-4.79zM765.98 355.2h4.79v16h-4.79zM772.27 355.2h4.79v16h-4.79zM778.57 355.2h4.79v16h-4.79zM784.87 355.2h4.79v16h-4.79zM791.16 355.2h4.79v16h-4.79zM797.46 355.2h4.79v16h-4.79zM803.76 355.2h4.79v16h-4.79zM810.05 355.2h4.79v16h-4.79zM816.35 355.2h4.79v16h-4.79zM822.64 355.2h4.79v16h-4.79zM828.94 355.2h4.79v16h-4.79zM835.24 355.2h4.79v16h-4.79zM841.53 355.2h4.79v16h-4.79zM847.83 355.2h4.79v16h-4.79zM854.13 355.2h4.79v16h-4.79zM860.42 355.2h4.79v16h-4.79zM866.72 355.2h4.79v16h-4.79zM873.01 355.2h4.79v16h-4.79z"/>
<path fill="#f0922b" d="M728.2 380.3h4.79v16.9h-4.79zM734.5 380.3h4.79v16.9h-4.79zM740.79 380.3h4.79v16.9h-4.79zM747.09 380.3h4.79v16.9h-4.79zM753.39 380.3h4.79v16.9h-4.79zM759.68 380.3h4.79v16.9h-4.79zM765.98 380.3h4.79v16.9h-4.79zM772.27 380.3h4.79v16.9h-4.79zM778.57 380.3h4.79v16.9h-4.79zM784.87 380.3h4.79v16.9h-4.79zM791.16 380.3h4.79v16.9h-4.79zM797.46 380.3h4.79v16.9h-4.79zM803.76 380.3h4.79v16.9h-4.79zM810.05 380.3h4.79v16.9h-4.79zM816.35 380.3h4.79v16.9h-4.79zM822.64 380.3h4.79v16.9h-4.79zM828.94 380.3h4.79v16.9h-4.79zM835.24 380.3h4.79v16.9h-4.79zM841.53 380.3h4.79v16.9h-4.79zM847.83 380.3h4.79v16.9h-4.79zM854.13 380.3h4.79v16.9h-4.79zM860.42 380.3h4.79v16.9h-4.79zM866.72 380.3h4.79v16.9h-4.79zM873.01 380.3h4.79v16.9h-4.79z"/>
<path fill="#f0922b" d="M728.2 429.4h4.87v17.6h-4.87zM734.78 429.4h4.87v17.6h-4.87zM741.36 429.4h4.87v17.6h-4.87zM747.94 429.4h4.87v17.6h-4.87zM754.51 429.4h4.87v17.6h-4.87zM761.09 429.4h4.87v17.6h-4.87zM767.67 429.4h4.87v17.6h-4.87zM774.25 429.4h4.87v17.6h-4.87zM780.83 429.4h4.87v17.6h-4.87zM787.41 429.4h4.87v17.6h-4.87zM793.99 429.4h4.87v17.6h-4.87zM800.57 429.4h4.87v17.6h-4.87zM807.14 429.4h4.87v17.6h-4.87zM813.72 429.4h4.87v17.6h-4.87zM820.3 429.4h4.87v17.6h-4.87zM826.88 429.4h4.87v17.6h-4.87zM833.46 429.4h4.87v17.6h-4.87zM840.04 429.4h4.87v17.6h-4.87zM846.62 429.4h4.87v17.6h-4.87zM853.2 429.4h4.87v17.6h-4.87zM859.77 429.4h4.87v17.6h-4.87zM866.35 429.4h4.87v17.6h-4.87zM872.93 429.4h4.87v17.6h-4.87z"/>
<path fill="#f0922b" d="M728.2 456h4.87v18.8h-4.87zM734.78 456h4.87v18.8h-4.87zM741.36 456h4.87v18.8h-4.87zM747.94 456h4.87v18.8h-4.87zM754.51 456h4.87v18.8h-4.87zM761.09 456h4.87v18.8h-4.87zM767.67 456h4.87v18.8h-4.87zM774.25 456h4.87v18.8h-4.87zM780.83 456h4.87v18.8h-4.87zM787.41 456h4.87v18.8h-4.87zM793.99 456h4.87v18.8h-4.87zM800.57 456h4.87v18.8h-4.87zM807.14 456h4.87v18.8h-4.87zM813.72 456h4.87v18.8h-4.87zM820.3 456h4.87v18.8h-4.87zM826.88 456h4.87v18.8h-4.87zM833.46 456h4.87v18.8h-4.87zM840.04 456h4.87v18.8h-4.87zM846.62 456h4.87v18.8h-4.87zM853.2 456h4.87v18.8h-4.87zM859.77 456h4.87v18.8h-4.87zM866.35 456h4.87v18.8h-4.87zM872.93 456h4.87v18.8h-4.87z"/>
<path fill="#8d8cc6" d="M728.8 506.8h5.67v22.4h-5.67zM736.36 506.8h5.67v22.4h-5.67zM743.92 506.8h5.67v22.4h-5.67zM751.48 506.8h5.67v22.4h-5.67zM759.04 506.8h5.67v22.4h-5.67zM766.6 506.8h5.67v22.4h-5.67zM774.16 506.8h5.67v22.4h-5.67zM781.72 506.8h5.67v22.4h-5.67zM789.28 506.8h5.67v22.4h-5.67zM796.84 506.8h5.67v22.4h-5.67zM804.39 506.8h5.67v22.4h-5.67zM811.95 506.8h5.67v22.4h-5.67zM819.51 506.8h5.67v22.4h-5.67zM827.07 506.8h5.67v22.4h-5.67zM834.63 506.8h5.67v22.4h-5.67zM842.19 506.8h5.67v22.4h-5.67zM849.75 506.8h5.67v22.4h-5.67zM857.31 506.8h5.67v22.4h-5.67zM864.87 506.8h5.67v22.4h-5.67zM872.43 506.8h5.67v22.4h-5.67z"/>
<path fill="#8d8cc6" d="M728.8 538.5h5.67v22.2h-5.67zM736.36 538.5h5.67v22.2h-5.67zM743.92 538.5h5.67v22.2h-5.67zM751.48 538.5h5.67v22.2h-5.67zM759.04 538.5h5.67v22.2h-5.67zM766.6 538.5h5.67v22.2h-5.67zM774.16 538.5h5.67v22.2h-5.67zM781.72 538.5h5.67v22.2h-5.67zM789.28 538.5h5.67v22.2h-5.67zM796.84 538.5h5.67v22.2h-5.67zM804.39 538.5h5.67v22.2h-5.67zM811.95 538.5h5.67v22.2h-5.67zM819.51 538.5h5.67v22.2h-5.67zM827.07 538.5h5.67v22.2h-5.67zM834.63 538.5h5.67v22.2h-5.67zM842.19 538.5h5.67v22.2h-5.67zM849.75 538.5h5.67v22.2h-5.67zM857.31 538.5h5.67v22.2h-5.67zM864.87 538.5h5.67v22.2h-5.67zM872.43 538.5h5.67v22.2h-5.67z"/>
<path fill="#cd2017" d="M729.3 603.9h6.71v30.9h-6.71zM738.01 603.9h6.71v30.9h-6.71zM746.73 603.9h6.71v30.9h-6.71zM755.44 603.9h6.71v30.9h-6.71zM764.15 603.9h6.71v30.9h-6.71zM772.86 603.9h6.71v30.9h-6.71zM781.58 603.9h6.71v30.9h-6.71zM790.29 603.9h6.71v30.9h-6.71zM799 603.9h6.71v30.9h-6.71zM807.71 603.9h6.71v30.9h-6.71zM816.43 603.9h6.71v30.9h-6.71zM825.14 603.9h6.71v30.9h-6.71zM833.85 603.9h6.71v30.9h-6.71zM842.57 603.9h6.71v30.9h-6.71zM851.28 603.9h6.71v30.9h-6.71zM859.99 603.9h6.71v30.9h-6.71z"/>
<path fill="#9a70b2" d="M729.3 643.3h8v45.4h-8zM739.97 643.3h8v45.4h-8zM750.64 643.3h8v45.4h-8zM761.31 643.3h8v45.4h-8zM771.98 643.3h8v45.4h-8zM782.65 643.3h8v45.4h-8zM793.33 643.3h8v45.4h-8zM804 643.3h8v45.4h-8z"/>
<path fill="#f194c0" d="M814.7 643.3h8.3v40h-8.3zM825.62 643.3h8.3v40h-8.3zM836.55 643.3h8.3v40h-8.3zM847.47 643.3h8.3v40h-8.3zM858.4 643.3h8.3v40h-8.3z"/>
<path fill="#a9c3d4" d="M915.2 361.5h4.75v16.7h-4.75zM921.79 361.5h4.75v16.7h-4.75zM928.39 361.5h4.75v16.7h-4.75zM934.98 361.5h4.75v16.7h-4.75zM941.57 361.5h4.75v16.7h-4.75zM948.17 361.5h4.75v16.7h-4.75zM954.76 361.5h4.75v16.7h-4.75zM961.35 361.5h4.75v16.7h-4.75zM967.94 361.5h4.75v16.7h-4.75zM974.54 361.5h4.75v16.7h-4.75zM981.13 361.5h4.75v16.7h-4.75zM987.72 361.5h4.75v16.7h-4.75zM994.32 361.5h4.75v16.7h-4.75zM1000.91 361.5h4.75v16.7h-4.75zM1007.5 361.5h4.75v16.7h-4.75zM1014.1 361.5h4.75v16.7h-4.75zM1020.69 361.5h4.75v16.7h-4.75zM1027.28 361.5h4.75v16.7h-4.75zM1033.87 361.5h4.75v16.7h-4.75zM1040.47 361.5h4.75v16.7h-4.75zM1047.06 361.5h4.75v16.7h-4.75zM1053.65 361.5h4.75v16.7h-4.75z"/>
<path fill="#fdc626" d="M915.2 387.7h6.21v21.1h-6.21zM923.26 387.7h6.21v21.1h-6.21zM931.32 387.7h6.21v21.1h-6.21zM939.38 387.7h6.21v21.1h-6.21zM947.43 387.7h6.21v21.1h-6.21zM955.49 387.7h6.21v21.1h-6.21zM963.55 387.7h6.21v21.1h-6.21zM971.61 387.7h6.21v21.1h-6.21zM979.67 387.7h6.21v21.1h-6.21zM987.73 387.7h6.21v21.1h-6.21zM995.79 387.7h6.21v21.1h-6.21zM1003.84 387.7h6.21v21.1h-6.21zM1011.9 387.7h6.21v21.1h-6.21zM1019.96 387.7h6.21v21.1h-6.21zM1028.02 387.7h6.21v21.1h-6.21zM1036.08 387.7h6.21v21.1h-6.21zM1044.14 387.7h6.21v21.1h-6.21zM1052.19 387.7h6.21v21.1h-6.21z"/>
<path fill="#fdc626" d="M923.4 452.5h6.2v23.2h-6.2zM931.45 452.5h6.2v23.2h-6.2zM939.5 452.5h6.2v23.2h-6.2zM947.55 452.5h6.2v23.2h-6.2zM955.6 452.5h6.2v23.2h-6.2zM963.65 452.5h6.2v23.2h-6.2zM971.7 452.5h6.2v23.2h-6.2zM979.75 452.5h6.2v23.2h-6.2zM987.8 452.5h6.2v23.2h-6.2zM995.85 452.5h6.2v23.2h-6.2zM1003.9 452.5h6.2v23.2h-6.2zM1011.95 452.5h6.2v23.2h-6.2zM1020 452.5h6.2v23.2h-6.2zM1028.05 452.5h6.2v23.2h-6.2zM1036.1 452.5h6.2v23.2h-6.2zM1044.15 452.5h6.2v23.2h-6.2zM1052.2 452.5h6.2v23.2h-6.2z"/>
<path fill="#cd2017" d="M919.6 485.9h6.94v28.3h-6.94zM928.39 485.9h6.94v28.3h-6.94zM937.18 485.9h6.94v28.3h-6.94zM945.97 485.9h6.94v28.3h-6.94zM954.76 485.9h6.94v28.3h-6.94zM963.55 485.9h6.94v28.3h-6.94zM972.34 485.9h6.94v28.3h-6.94zM981.13 485.9h6.94v28.3h-6.94zM989.92 485.9h6.94v28.3h-6.94zM998.71 485.9h6.94v28.3h-6.94zM1007.5 485.9h6.94v28.3h-6.94zM1016.29 485.9h6.94v28.3h-6.94zM1025.08 485.9h6.94v28.3h-6.94zM1033.87 485.9h6.94v28.3h-6.94zM1042.67 485.9h6.94v28.3h-6.94zM1051.46 485.9h6.94v28.3h-6.94z"/>
<path fill="#077b9e" d="M917 568h7.28v28.5h-7.28zM926.58 568h7.28v28.5h-7.28zM936.16 568h7.28v28.5h-7.28zM945.74 568h7.28v28.5h-7.28zM955.32 568h7.28v28.5h-7.28zM964.9 568h7.28v28.5h-7.28zM974.48 568h7.28v28.5h-7.28zM984.06 568h7.28v28.5h-7.28zM993.64 568h7.28v28.5h-7.28zM1003.22 568h7.28v28.5h-7.28zM1012.8 568h7.28v28.5h-7.28zM1022.38 568h7.28v28.5h-7.28zM1031.96 568h7.28v28.5h-7.28zM1041.54 568h7.28v28.5h-7.28zM1051.12 568h7.28v28.5h-7.28z"/>
<path fill="#f194c0" d="M917.5 606h7.78v42.4h-7.78zM927.74 606h7.78v42.4h-7.78zM937.98 606h7.78v42.4h-7.78zM948.22 606h7.78v42.4h-7.78zM958.46 606h7.78v42.4h-7.78zM968.7 606h7.78v42.4h-7.78zM978.94 606h7.78v42.4h-7.78zM989.18 606h7.78v42.4h-7.78zM999.42 606h7.78v42.4h-7.78zM1009.66 606h7.78v42.4h-7.78zM1019.9 606h7.78v42.4h-7.78zM1030.14 606h7.78v42.4h-7.78zM1040.38 606h7.78v42.4h-7.78zM1050.62 606h7.78v42.4h-7.78z"/>
<path fill="#e63323" d="M1075.5 351.3h4.57v16.7h-4.57zM1081.85 351.3h4.57v16.7h-4.57zM1088.19 351.3h4.57v16.7h-4.57zM1094.54 351.3h4.57v16.7h-4.57zM1100.89 351.3h4.57v16.7h-4.57zM1107.23 351.3h4.57v16.7h-4.57zM1113.58 351.3h4.57v16.7h-4.57zM1119.93 351.3h4.57v16.7h-4.57zM1126.27 351.3h4.57v16.7h-4.57zM1132.62 351.3h4.57v16.7h-4.57zM1138.97 351.3h4.57v16.7h-4.57zM1145.31 351.3h4.57v16.7h-4.57zM1151.66 351.3h4.57v16.7h-4.57zM1158 351.3h4.57v16.7h-4.57zM1164.35 351.3h4.57v16.7h-4.57zM1170.7 351.3h4.57v16.7h-4.57zM1177.04 351.3h4.57v16.7h-4.57zM1183.39 351.3h4.57v16.7h-4.57zM1189.74 351.3h4.57v16.7h-4.57zM1196.08 351.3h4.57v16.7h-4.57zM1202.43 351.3h4.57v16.7h-4.57z"/>
<path fill="#99c9ee" d="M1075.5 377h4.57v16.9h-4.57zM1081.85 377h4.57v16.9h-4.57zM1088.19 377h4.57v16.9h-4.57zM1094.54 377h4.57v16.9h-4.57zM1100.89 377h4.57v16.9h-4.57zM1107.23 377h4.57v16.9h-4.57zM1113.58 377h4.57v16.9h-4.57zM1119.93 377h4.57v16.9h-4.57zM1126.27 377h4.57v16.9h-4.57zM1132.62 377h4.57v16.9h-4.57zM1138.97 377h4.57v16.9h-4.57zM1145.31 377h4.57v16.9h-4.57zM1151.66 377h4.57v16.9h-4.57zM1158 377h4.57v16.9h-4.57zM1164.35 377h4.57v16.9h-4.57zM1170.7 377h4.57v16.9h-4.57zM1177.04 377h4.57v16.9h-4.57zM1183.39 377h4.57v16.9h-4.57zM1189.74 377h4.57v16.9h-4.57zM1196.08 377h4.57v16.9h-4.57zM1202.43 377h4.57v16.9h-4.57z"/>
<path fill="#99c9ee" d="M1075.5 418.6h4.57v16.7h-4.57zM1081.85 418.6h4.57v16.7h-4.57zM1088.19 418.6h4.57v16.7h-4.57zM1094.54 418.6h4.57v16.7h-4.57zM1100.89 418.6h4.57v16.7h-4.57zM1107.23 418.6h4.57v16.7h-4.57zM1113.58 418.6h4.57v16.7h-4.57zM1119.93 418.6h4.57v16.7h-4.57zM1126.27 418.6h4.57v16.7h-4.57zM1132.62 418.6h4.57v16.7h-4.57zM1138.97 418.6h4.57v16.7h-4.57zM1145.31 418.6h4.57v16.7h-4.57zM1151.66 418.6h4.57v16.7h-4.57zM1158 418.6h4.57v16.7h-4.57zM1164.35 418.6h4.57v16.7h-4.57zM1170.7 418.6h4.57v16.7h-4.57zM1177.04 418.6h4.57v16.7h-4.57zM1183.39 418.6h4.57v16.7h-4.57zM1189.74 418.6h4.57v16.7h-4.57zM1196.08 418.6h4.57v16.7h-4.57zM1202.43 418.6h4.57v16.7h-4.57z"/>
<path fill="#8d8cc6" d="M1075.5 444.3h5.63v21.3h-5.63zM1082.9 444.3h5.63v21.3h-5.63zM1090.31 444.3h5.63v21.3h-5.63zM1097.71 444.3h5.63v21.3h-5.63zM1105.12 444.3h5.63v21.3h-5.63zM1112.52 444.3h5.63v21.3h-5.63zM1119.93 444.3h5.63v21.3h-5.63zM1127.33 444.3h5.63v21.3h-5.63zM1134.73 444.3h5.63v21.3h-5.63zM1142.14 444.3h5.63v21.3h-5.63zM1149.54 444.3h5.63v21.3h-5.63zM1156.95 444.3h5.63v21.3h-5.63zM1164.35 444.3h5.63v21.3h-5.63zM1171.76 444.3h5.63v21.3h-5.63zM1179.16 444.3h5.63v21.3h-5.63zM1186.56 444.3h5.63v21.3h-5.63zM1193.97 444.3h5.63v21.3h-5.63zM1201.37 444.3h5.63v21.3h-5.63z"/>
<path fill="#8d8cc6" d="M1075.5 500.6h5.63v21.3h-5.63zM1082.9 500.6h5.63v21.3h-5.63zM1090.31 500.6h5.63v21.3h-5.63zM1097.71 500.6h5.63v21.3h-5.63zM1105.12 500.6h5.63v21.3h-5.63zM1112.52 500.6h5.63v21.3h-5.63zM1119.93 500.6h5.63v21.3h-5.63zM1127.33 500.6h5.63v21.3h-5.63zM1134.73 500.6h5.63v21.3h-5.63zM1142.14 500.6h5.63v21.3h-5.63zM1149.54 500.6h5.63v21.3h-5.63zM1156.95 500.6h5.63v21.3h-5.63zM1164.35 500.6h5.63v21.3h-5.63zM1171.76 500.6h5.63v21.3h-5.63zM1179.16 500.6h5.63v21.3h-5.63zM1186.56 500.6h5.63v21.3h-5.63zM1193.97 500.6h5.63v21.3h-5.63zM1201.37 500.6h5.63v21.3h-5.63z"/>
<path fill="#f0922b" d="M1075.5 530.9h4.8v16.7h-4.8zM1082.17 530.9h4.8v16.7h-4.8zM1088.84 530.9h4.8v16.7h-4.8zM1095.51 530.9h4.8v16.7h-4.8zM1102.17 530.9h4.8v16.7h-4.8zM1108.84 530.9h4.8v16.7h-4.8zM1115.51 530.9h4.8v16.7h-4.8zM1122.18 530.9h4.8v16.7h-4.8zM1128.85 530.9h4.8v16.7h-4.8zM1135.52 530.9h4.8v16.7h-4.8zM1142.18 530.9h4.8v16.7h-4.8zM1148.85 530.9h4.8v16.7h-4.8zM1155.52 530.9h4.8v16.7h-4.8zM1162.19 530.9h4.8v16.7h-4.8zM1168.86 530.9h4.8v16.7h-4.8zM1175.53 530.9h4.8v16.7h-4.8zM1182.19 530.9h4.8v16.7h-4.8zM1188.86 530.9h4.8v16.7h-4.8zM1195.53 530.9h4.8v16.7h-4.8zM1202.2 530.9h4.8v16.7h-4.8z"/>
<path fill="#f0922b" d="M1073.9 580.7h4.72v17.2h-4.72zM1080.45 580.7h4.72v17.2h-4.72zM1087 580.7h4.72v17.2h-4.72zM1093.55 580.7h4.72v17.2h-4.72zM1100.1 580.7h4.72v17.2h-4.72zM1106.64 580.7h4.72v17.2h-4.72zM1113.19 580.7h4.72v17.2h-4.72zM1119.74 580.7h4.72v17.2h-4.72zM1126.29 580.7h4.72v17.2h-4.72zM1132.84 580.7h4.72v17.2h-4.72zM1139.39 580.7h4.72v17.2h-4.72zM1145.94 580.7h4.72v17.2h-4.72zM1152.49 580.7h4.72v17.2h-4.72zM1159.04 580.7h4.72v17.2h-4.72zM1165.58 580.7h4.72v17.2h-4.72z"/>
<path fill="#fdc626" d="M1073.9 605.2h6.31v26h-6.31zM1082.09 605.2h6.31v26h-6.31zM1090.28 605.2h6.31v26h-6.31zM1098.47 605.2h6.31v26h-6.31zM1106.66 605.2h6.31v26h-6.31zM1114.85 605.2h6.31v26h-6.31zM1123.04 605.2h6.31v26h-6.31zM1131.23 605.2h6.31v26h-6.31zM1139.42 605.2h6.31v26h-6.31zM1147.61 605.2h6.31v26h-6.31zM1155.8 605.2h6.31v26h-6.31zM1163.99 605.2h6.31v26h-6.31z"/>
<path fill="#ef9599" d="M1234.2 346.8h4.51v13.4h-4.51zM1240.29 346.8h4.51v13.4h-4.51zM1246.38 346.8h4.51v13.4h-4.51zM1252.47 346.8h4.51v13.4h-4.51zM1258.56 346.8h4.51v13.4h-4.51zM1264.65 346.8h4.51v13.4h-4.51zM1270.74 346.8h4.51v13.4h-4.51zM1276.83 346.8h4.51v13.4h-4.51zM1282.92 346.8h4.51v13.4h-4.51zM1289.01 346.8h4.51v13.4h-4.51zM1295.1 346.8h4.51v13.4h-4.51zM1301.19 346.8h4.51v13.4h-4.51zM1307.28 346.8h4.51v13.4h-4.51zM1313.37 346.8h4.51v13.4h-4.51zM1319.46 346.8h4.51v13.4h-4.51zM1325.55 346.8h4.51v13.4h-4.51zM1331.64 346.8h4.51v13.4h-4.51zM1337.73 346.8h4.51v13.4h-4.51zM1343.82 346.8h4.51v13.4h-4.51zM1349.91 346.8h4.51v13.4h-4.51zM1356 346.8h4.51v13.4h-4.51zM1362.09 346.8h4.51v13.4h-4.51z"/>
<path fill="#ef9599" d="M1234.2 369.5h4.47v14.3h-4.47zM1240.16 369.5h4.47v14.3h-4.47zM1246.12 369.5h4.47v14.3h-4.47zM1252.08 369.5h4.47v14.3h-4.47zM1258.04 369.5h4.47v14.3h-4.47zM1264 369.5h4.47v14.3h-4.47zM1269.96 369.5h4.47v14.3h-4.47zM1275.92 369.5h4.47v14.3h-4.47zM1281.88 369.5h4.47v14.3h-4.47zM1287.84 369.5h4.47v14.3h-4.47zM1293.8 369.5h4.47v14.3h-4.47zM1299.76 369.5h4.47v14.3h-4.47zM1305.73 369.5h4.47v14.3h-4.47zM1311.69 369.5h4.47v14.3h-4.47zM1317.65 369.5h4.47v14.3h-4.47zM1323.61 369.5h4.47v14.3h-4.47zM1329.57 369.5h4.47v14.3h-4.47zM1335.53 369.5h4.47v14.3h-4.47zM1341.49 369.5h4.47v14.3h-4.47zM1347.45 369.5h4.47v14.3h-4.47zM1353.41 369.5h4.47v14.3h-4.47zM1359.37 369.5h4.47v14.3h-4.47zM1365.33 369.5h4.47v14.3h-4.47z"/>
<path fill="#e63323" d="M1235.2 408.9h3.72v11.1h-3.72zM1240.23 408.9h3.72v11.1h-3.72zM1245.27 408.9h3.72v11.1h-3.72zM1250.3 408.9h3.72v11.1h-3.72zM1255.33 408.9h3.72v11.1h-3.72zM1260.37 408.9h3.72v11.1h-3.72zM1265.4 408.9h3.72v11.1h-3.72zM1270.44 408.9h3.72v11.1h-3.72zM1275.47 408.9h3.72v11.1h-3.72zM1280.5 408.9h3.72v11.1h-3.72zM1285.54 408.9h3.72v11.1h-3.72zM1290.57 408.9h3.72v11.1h-3.72zM1295.6 408.9h3.72v11.1h-3.72zM1300.64 408.9h3.72v11.1h-3.72zM1305.67 408.9h3.72v11.1h-3.72zM1310.7 408.9h3.72v11.1h-3.72zM1315.74 408.9h3.72v11.1h-3.72zM1320.77 408.9h3.72v11.1h-3.72zM1325.81 408.9h3.72v11.1h-3.72zM1330.84 408.9h3.72v11.1h-3.72zM1335.87 408.9h3.72v11.1h-3.72zM1340.91 408.9h3.72v11.1h-3.72zM1345.94 408.9h3.72v11.1h-3.72zM1350.97 408.9h3.72v11.1h-3.72zM1356.01 408.9h3.72v11.1h-3.72zM1361.04 408.9h3.72v11.1h-3.72zM1366.08 408.9h3.72v11.1h-3.72z"/>
<path fill="#e63323" d="M1235.2 429.6h3.72v11.5h-3.72zM1240.23 429.6h3.72v11.5h-3.72zM1245.27 429.6h3.72v11.5h-3.72zM1250.3 429.6h3.72v11.5h-3.72zM1255.33 429.6h3.72v11.5h-3.72zM1260.37 429.6h3.72v11.5h-3.72zM1265.4 429.6h3.72v11.5h-3.72zM1270.44 429.6h3.72v11.5h-3.72zM1275.47 429.6h3.72v11.5h-3.72zM1280.5 429.6h3.72v11.5h-3.72zM1285.54 429.6h3.72v11.5h-3.72zM1290.57 429.6h3.72v11.5h-3.72zM1295.6 429.6h3.72v11.5h-3.72zM1300.64 429.6h3.72v11.5h-3.72zM1305.67 429.6h3.72v11.5h-3.72zM1310.7 429.6h3.72v11.5h-3.72zM1315.74 429.6h3.72v11.5h-3.72zM1320.77 429.6h3.72v11.5h-3.72zM1325.81 429.6h3.72v11.5h-3.72zM1330.84 429.6h3.72v11.5h-3.72zM1335.87 429.6h3.72v11.5h-3.72zM1340.91 429.6h3.72v11.5h-3.72zM1345.94 429.6h3.72v11.5h-3.72zM1350.97 429.6h3.72v11.5h-3.72zM1356.01 429.6h3.72v11.5h-3.72zM1361.04 429.6h3.72v11.5h-3.72zM1366.08 429.6h3.72v11.5h-3.72z"/>
<path fill="#ef9599" d="M1234.7 467.2h4.44v14.2h-4.44zM1240.62 467.2h4.44v14.2h-4.44zM1246.54 467.2h4.44v14.2h-4.44zM1252.46 467.2h4.44v14.2h-4.44zM1258.38 467.2h4.44v14.2h-4.44zM1264.3 467.2h4.44v14.2h-4.44zM1270.23 467.2h4.44v14.2h-4.44zM1276.15 467.2h4.44v14.2h-4.44zM1282.07 467.2h4.44v14.2h-4.44zM1287.99 467.2h4.44v14.2h-4.44zM1293.91 467.2h4.44v14.2h-4.44zM1299.83 467.2h4.44v14.2h-4.44zM1305.75 467.2h4.44v14.2h-4.44zM1311.67 467.2h4.44v14.2h-4.44zM1317.59 467.2h4.44v14.2h-4.44zM1323.51 467.2h4.44v14.2h-4.44zM1329.43 467.2h4.44v14.2h-4.44zM1335.35 467.2h4.44v14.2h-4.44zM1341.28 467.2h4.44v14.2h-4.44zM1347.2 467.2h4.44v14.2h-4.44zM1353.12 467.2h4.44v14.2h-4.44zM1359.04 467.2h4.44v14.2h-4.44zM1364.96 467.2h4.44v14.2h-4.44z"/>
<path fill="#ef9599" d="M1234.7 490.8h4.44v14.2h-4.44zM1240.62 490.8h4.44v14.2h-4.44zM1246.54 490.8h4.44v14.2h-4.44zM1252.46 490.8h4.44v14.2h-4.44zM1258.38 490.8h4.44v14.2h-4.44zM1264.3 490.8h4.44v14.2h-4.44zM1270.23 490.8h4.44v14.2h-4.44zM1276.15 490.8h4.44v14.2h-4.44zM1282.07 490.8h4.44v14.2h-4.44zM1287.99 490.8h4.44v14.2h-4.44zM1293.91 490.8h4.44v14.2h-4.44zM1299.83 490.8h4.44v14.2h-4.44zM1305.75 490.8h4.44v14.2h-4.44zM1311.67 490.8h4.44v14.2h-4.44zM1317.59 490.8h4.44v14.2h-4.44zM1323.51 490.8h4.44v14.2h-4.44zM1329.43 490.8h4.44v14.2h-4.44zM1335.35 490.8h4.44v14.2h-4.44zM1341.28 490.8h4.44v14.2h-4.44zM1347.2 490.8h4.44v14.2h-4.44zM1353.12 490.8h4.44v14.2h-4.44zM1359.04 490.8h4.44v14.2h-4.44zM1364.96 490.8h4.44v14.2h-4.44z"/>
<path fill="#a9c3d4" d="M1246.4 536.7h3.95v12.5h-3.95zM1252.38 536.7h3.95v12.5h-3.95zM1258.37 536.7h3.95v12.5h-3.95zM1264.35 536.7h3.95v12.5h-3.95zM1270.33 536.7h3.95v12.5h-3.95zM1276.31 536.7h3.95v12.5h-3.95zM1282.3 536.7h3.95v12.5h-3.95zM1288.28 536.7h3.95v12.5h-3.95zM1294.26 536.7h3.95v12.5h-3.95zM1300.24 536.7h3.95v12.5h-3.95zM1306.23 536.7h3.95v12.5h-3.95zM1312.21 536.7h3.95v12.5h-3.95zM1318.19 536.7h3.95v12.5h-3.95zM1324.17 536.7h3.95v12.5h-3.95zM1330.16 536.7h3.95v12.5h-3.95zM1336.14 536.7h3.95v12.5h-3.95zM1342.12 536.7h3.95v12.5h-3.95zM1348.1 536.7h3.95v12.5h-3.95zM1354.09 536.7h3.95v12.5h-3.95zM1360.07 536.7h3.95v12.5h-3.95zM1366.05 536.7h3.95v12.5h-3.95z"/>
<g font-size="29.8" fill="#1c4f8f" text-anchor="middle">
<text transform="translate(442.4 417) scale(.94 1)">A</text>
<text transform="translate(445.3 614.3) scale(.94 1)">C</text>
<text transform="translate(636.2 417) scale(.94 1)">D</text>
<text transform="translate(636.4 528) scale(.94 1)">E</text>
<text transform="translate(638 652) scale(.94 1)">F</text>
<text transform="translate(800 386.7) scale(.94 1)">G</text>
<text transform="translate(800 465) scale(.94 1)">H</text>
<text transform="translate(800.3 544) scale(.94 1)">I</text>
<text transform="translate(800.3 649) scale(.94 1)">J</text>
<text transform="translate(987 393) scale(.94 1)">K</text>
<text transform="translate(988 488) scale(.94 1)">L</text>
<text transform="translate(986.8 611.7) scale(.94 1)">M</text>
<text transform="translate(1142.7 383.8) scale(.94 1)">N</text>
<text transform="translate(1142 447.7) scale(.94 1)">O</text>
<text transform="translate(1142 539) scale(.94 1)">P</text>
<text transform="translate(1122 612.8) scale(.94 1)">Q</text>
<text transform="translate(1304.5 375.9) scale(.94 1)">R</text>
<text transform="translate(1302.3 436.9) scale(.94 1)">S</text>
<text transform="translate(1303.6 495.8) scale(.94 1)">T</text>
<text transform="translate(1304.9 554.6) scale(.94 1)">U</text>
</g>
<g transform="translate(600.4 277)"><circle r="15.2" fill="#9c9c9c"/><text x="0.4" y="9" font-size="25.5" font-weight="bold" fill="#fff" text-anchor="middle">P</text></g>
<g transform="translate(332 513)"><circle r="15.2" fill="#9c9c9c"/><text x="0.4" y="9" font-size="25.5" font-weight="bold" fill="#fff" text-anchor="middle">P</text></g>
<g transform="translate(1117.6 62.5)"><circle r="15.2" fill="#9c9c9c"/><text x="0.4" y="9" font-size="25.5" font-weight="bold" fill="#fff" text-anchor="middle">P</text></g>
<g transform="translate(1362.3 294.7)"><circle r="15.2" fill="#9c9c9c"/><text x="0.4" y="9" font-size="25.5" font-weight="bold" fill="#fff" text-anchor="middle">P</text></g>
<g transform="translate(1033.5 28.3)"><circle r="15.2" fill="#9c9c9c"/><text x="-0.6" y="9.6" style="font-family:'Liberation Serif',serif" font-size="30" font-weight="bold" font-style="italic" fill="#fff" stroke="#fff" stroke-width=".5" text-anchor="middle">i</text></g>
<g transform="translate(1170.6 267)"><circle r="15.2" fill="#9c9c9c"/><text x="-0.6" y="9.6" style="font-family:'Liberation Serif',serif" font-size="30" font-weight="bold" font-style="italic" fill="#fff" stroke="#fff" stroke-width=".5" text-anchor="middle">i</text></g>
<g transform="translate(1080.5 62.5)"><circle r="15.2" fill="#9c9c9c"/><g fill="none" stroke="#fff" stroke-width="1" stroke-linecap="round" stroke-linejoin="round"><circle cx="-6.6" cy="2.2" r="3.7"/><circle cx="6.4" cy="2.2" r="3.7"/><path d="M-6.6 2.2L-2.6 -3.4H3.8L-1 3L-2.6 -3.4M-3.6 -5H-1.6M-1 3L-6.6 2.2M6.4 2.2L3.2 -5.6H5.4M3.8 -3.4"/></g></g>
<g transform="translate(1050.6 279)"><circle r="15.2" fill="#9c9c9c"/><g fill="none" stroke="#fff" stroke-width="1" stroke-linecap="round" stroke-linejoin="round"><circle cx="-6.6" cy="2.2" r="3.7"/><circle cx="6.4" cy="2.2" r="3.7"/><path d="M-6.6 2.2L-2.6 -3.4H3.8L-1 3L-2.6 -3.4M-3.6 -5H-1.6M-1 3L-6.6 2.2M6.4 2.2L3.2 -5.6H5.4M3.8 -3.4"/></g></g>
<g transform="translate(386 295.2)"><circle r="15.2" fill="#9c9c9c"/><path fill="#fff" d="M-7.9 -7.1H7.9L5.6 8.7H-5.4Z"/><path fill="none" stroke="#fff" stroke-width=".9" d="M-1.5 -7Q0 -9.4 1.5 -7"/><path fill="none" stroke="#9c9c9c" stroke-width=".5" d="M-7.4 -5.3H7.4"/><circle cx="0" cy="1.3" r="3" fill="none" stroke="#9c9c9c" stroke-width="1.25" stroke-dasharray="4.5 1.78" transform="rotate(-70 0 1.3)"/></g>
<g transform="translate(731.2 295)"><circle r="15.2" fill="#9c9c9c"/><path fill="#fff" d="M-7.9 -7.1H7.9L5.6 8.7H-5.4Z"/><path fill="none" stroke="#fff" stroke-width=".9" d="M-1.5 -7Q0 -9.4 1.5 -7"/><path fill="none" stroke="#9c9c9c" stroke-width=".5" d="M-7.4 -5.3H7.4"/><circle cx="0" cy="1.3" r="3" fill="none" stroke="#9c9c9c" stroke-width="1.25" stroke-dasharray="4.5 1.78" transform="rotate(-70 0 1.3)"/></g>
<g transform="translate(354.6 440.8)"><circle r="15.2" fill="#9c9c9c"/><path fill="#fff" d="M-7.9 -7.1H7.9L5.6 8.7H-5.4Z"/><path fill="none" stroke="#fff" stroke-width=".9" d="M-1.5 -7Q0 -9.4 1.5 -7"/><path fill="none" stroke="#9c9c9c" stroke-width=".5" d="M-7.4 -5.3H7.4"/><circle cx="0" cy="1.3" r="3" fill="none" stroke="#9c9c9c" stroke-width="1.25" stroke-dasharray="4.5 1.78" transform="rotate(-70 0 1.3)"/></g>
<g transform="translate(420.3 295.2)"><circle r="15.2" fill="#9c9c9c"/><path fill="none" stroke="#fff" stroke-width=".7" d="M0 -12L-8.6 11.2M0 -12L8.6 11.2M0 -7V-3.2"/><path fill="#fff" d="M0 -12.4L-1.7 -7.4H1.7Z"/><circle cx="0" cy="0.5" r="2.2" fill="#fff"/><path fill="#fff" d="M-5.4 6.4Q-5.4 4.2 -3.2 4.2H3.2Q5.4 4.2 5.4 6.4V12.9H-5.4Z"/><path fill="none" stroke="#9c9c9c" stroke-width=".35" d="M-3.3 7V12.9M3.3 7V12.9"/></g>
<g transform="translate(797.8 295)"><circle r="15.2" fill="#9c9c9c"/><path fill="none" stroke="#fff" stroke-width=".7" d="M0 -12L-8.6 11.2M0 -12L8.6 11.2M0 -7V-3.2"/><path fill="#fff" d="M0 -12.4L-1.7 -7.4H1.7Z"/><circle cx="0" cy="0.5" r="2.2" fill="#fff"/><path fill="#fff" d="M-5.4 6.4Q-5.4 4.2 -3.2 4.2H3.2Q5.4 4.2 5.4 6.4V12.9H-5.4Z"/><path fill="none" stroke="#9c9c9c" stroke-width=".35" d="M-3.3 7V12.9M3.3 7V12.9"/></g>
<g transform="translate(354.6 406.6)"><circle r="15.2" fill="#9c9c9c"/><path fill="none" stroke="#fff" stroke-width=".7" d="M0 -12L-8.6 11.2M0 -12L8.6 11.2M0 -7V-3.2"/><path fill="#fff" d="M0 -12.4L-1.7 -7.4H1.7Z"/><circle cx="0" cy="0.5" r="2.2" fill="#fff"/><path fill="#fff" d="M-5.4 6.4Q-5.4 4.2 -3.2 4.2H3.2Q5.4 4.2 5.4 6.4V12.9H-5.4Z"/><path fill="none" stroke="#9c9c9c" stroke-width=".35" d="M-3.3 7V12.9M3.3 7V12.9"/></g>
<g transform="translate(1388 393.6)"><circle r="15.2" fill="#9c9c9c"/><path fill="none" stroke="#fff" stroke-width=".7" d="M0 -12L-8.6 11.2M0 -12L8.6 11.2M0 -7V-3.2"/><path fill="#fff" d="M0 -12.4L-1.7 -7.4H1.7Z"/><circle cx="0" cy="0.5" r="2.2" fill="#fff"/><path fill="#fff" d="M-5.4 6.4Q-5.4 4.2 -3.2 4.2H3.2Q5.4 4.2 5.4 6.4V12.9H-5.4Z"/><path fill="none" stroke="#9c9c9c" stroke-width=".35" d="M-3.3 7V12.9M3.3 7V12.9"/></g>
<g transform="translate(1388 506)"><circle r="15.2" fill="#9c9c9c"/><path fill="none" stroke="#fff" stroke-width=".7" d="M0 -12L-8.6 11.2M0 -12L8.6 11.2M0 -7V-3.2"/><path fill="#fff" d="M0 -12.4L-1.7 -7.4H1.7Z"/><circle cx="0" cy="0.5" r="2.2" fill="#fff"/><path fill="#fff" d="M-5.4 6.4Q-5.4 4.2 -3.2 4.2H3.2Q5.4 4.2 5.4 6.4V12.9H-5.4Z"/><path fill="none" stroke="#9c9c9c" stroke-width=".35" d="M-3.3 7V12.9M3.3 7V12.9"/></g>
<g transform="translate(455.4 295.2)"><circle r="15.2" fill="#9c9c9c"/><rect x="-0.9" y="-10.2" width="1.8" height="20.6" fill="#fff"/><circle cx="-6.3" cy="-8.3" r="1.75" fill="#fff"/><path fill="#fff" d="M-8.2 -5.9H-4.4Q-3.5 -5.9 -3.2 -5L-1.7 0.5L-2.7 0.9L-4.2 -3.6L-2.6 3.9H-4.7V10.4H-5.9V3.9H-6.7V10.4H-7.9V3.9H-10L-8.4 -3.6L-9.9 0.9L-10.9 0.5L-9.4 -5Q-9.1 -5.9 -8.2 -5.9Z"/><circle cx="6.5" cy="-8.3" r="1.75" fill="#fff"/><path fill="#fff" d="M3.9 -5.9H9.1Q10.3 -5.9 10.3 -4.7V1.6H9.2V-3.9H8.8V10.4H7V2.4H6V10.4H4.2V-3.9H3.8V1.6H2.7V-4.7Q2.7 -5.9 3.9 -5.9Z"/></g>
<g transform="translate(831.3 295)"><circle r="15.2" fill="#9c9c9c"/><rect x="-0.9" y="-10.2" width="1.8" height="20.6" fill="#fff"/><circle cx="-6.3" cy="-8.3" r="1.75" fill="#fff"/><path fill="#fff" d="M-8.2 -5.9H-4.4Q-3.5 -5.9 -3.2 -5L-1.7 0.5L-2.7 0.9L-4.2 -3.6L-2.6 3.9H-4.7V10.4H-5.9V3.9H-6.7V10.4H-7.9V3.9H-10L-8.4 -3.6L-9.9 0.9L-10.9 0.5L-9.4 -5Q-9.1 -5.9 -8.2 -5.9Z"/><circle cx="6.5" cy="-8.3" r="1.75" fill="#fff"/><path fill="#fff" d="M3.9 -5.9H9.1Q10.3 -5.9 10.3 -4.7V1.6H9.2V-3.9H8.8V10.4H7V2.4H6V10.4H4.2V-3.9H3.8V1.6H2.7V-4.7Q2.7 -5.9 3.9 -5.9Z"/></g>
<g transform="translate(354.6 371.6)"><circle r="15.2" fill="#9c9c9c"/><rect x="-0.9" y="-10.2" width="1.8" height="20.6" fill="#fff"/><circle cx="-6.3" cy="-8.3" r="1.75" fill="#fff"/><path fill="#fff" d="M-8.2 -5.9H-4.4Q-3.5 -5.9 -3.2 -5L-1.7 0.5L-2.7 0.9L-4.2 -3.6L-2.6 3.9H-4.7V10.4H-5.9V3.9H-6.7V10.4H-7.9V3.9H-10L-8.4 -3.6L-9.9 0.9L-10.9 0.5L-9.4 -5Q-9.1 -5.9 -8.2 -5.9Z"/><circle cx="6.5" cy="-8.3" r="1.75" fill="#fff"/><path fill="#fff" d="M3.9 -5.9H9.1Q10.3 -5.9 10.3 -4.7V1.6H9.2V-3.9H8.8V10.4H7V2.4H6V10.4H4.2V-3.9H3.8V1.6H2.7V-4.7Q2.7 -5.9 3.9 -5.9Z"/></g>
<g transform="translate(1388 358.3)"><circle r="15.2" fill="#9c9c9c"/><rect x="-0.9" y="-10.2" width="1.8" height="20.6" fill="#fff"/><circle cx="-6.3" cy="-8.3" r="1.75" fill="#fff"/><path fill="#fff" d="M-8.2 -5.9H-4.4Q-3.5 -5.9 -3.2 -5L-1.7 0.5L-2.7 0.9L-4.2 -3.6L-2.6 3.9H-4.7V10.4H-5.9V3.9H-6.7V10.4H-7.9V3.9H-10L-8.4 -3.6L-9.9 0.9L-10.9 0.5L-9.4 -5Q-9.1 -5.9 -8.2 -5.9Z"/><circle cx="6.5" cy="-8.3" r="1.75" fill="#fff"/><path fill="#fff" d="M3.9 -5.9H9.1Q10.3 -5.9 10.3 -4.7V1.6H9.2V-3.9H8.8V10.4H7V2.4H6V10.4H4.2V-3.9H3.8V1.6H2.7V-4.7Q2.7 -5.9 3.9 -5.9Z"/></g>
<g transform="translate(1388 473.4)"><circle r="15.2" fill="#9c9c9c"/><rect x="-0.9" y="-10.2" width="1.8" height="20.6" fill="#fff"/><circle cx="-6.3" cy="-8.3" r="1.75" fill="#fff"/><path fill="#fff" d="M-8.2 -5.9H-4.4Q-3.5 -5.9 -3.2 -5L-1.7 0.5L-2.7 0.9L-4.2 -3.6L-2.6 3.9H-4.7V10.4H-5.9V3.9H-6.7V10.4H-7.9V3.9H-10L-8.4 -3.6L-9.9 0.9L-10.9 0.5L-9.4 -5Q-9.1 -5.9 -8.2 -5.9Z"/><circle cx="6.5" cy="-8.3" r="1.75" fill="#fff"/><path fill="#fff" d="M3.9 -5.9H9.1Q10.3 -5.9 10.3 -4.7V1.6H9.2V-3.9H8.8V10.4H7V2.4H6V10.4H4.2V-3.9H3.8V1.6H2.7V-4.7Q2.7 -5.9 3.9 -5.9Z"/></g>
<g transform="translate(764.5 295)"><circle r="15.2" fill="#9c9c9c"/><path fill="#fff" d="M-6.6 -10.4H-5.6V-4.4H-4.9V-10.4H-3.9V-4.4H-3.2V-10.4H-2.2V-4.4H-1.5V-10.4H-0.5V-3.2Q-0.5 -0.6 -2.3 -0.2V11.4Q-3.5 12.6 -4.8 11.4V-0.2Q-6.6 -0.6 -6.6 -3.2Z"/><path fill="#fff" d="M6.6 -10.6Q3.2 -8 3.4 2.6H4.4V11.4Q5.5 12.6 6.6 11.4Z"/></g>
<g transform="translate(354.6 475.4)"><circle r="15.2" fill="#9c9c9c"/><path fill="#fff" d="M-6.4 -2.5H5.4V4.6Q5.4 7.7 2.4 7.7H-3.4Q-6.4 7.7 -6.4 4.6Z"/><circle cx="6.3" cy="1.3" r="2.7" fill="none" stroke="#fff" stroke-width="1.5"/><rect x="-9.2" y="8.5" width="17.8" height="1.7" rx=".8" fill="#fff"/><path fill="none" stroke="#fff" stroke-width=".9" stroke-linecap="round" d="M-1.4 -4.2Q-2.6 -6 -1.2 -7.4Q0.2 -8.8 -1 -10.6"/></g>
<g transform="translate(1388 427.6)"><circle r="15.2" fill="#9c9c9c"/><path fill="#fff" d="M-6.4 -2.5H5.4V4.6Q5.4 7.7 2.4 7.7H-3.4Q-6.4 7.7 -6.4 4.6Z"/><circle cx="6.3" cy="1.3" r="2.7" fill="none" stroke="#fff" stroke-width="1.5"/><rect x="-9.2" y="8.5" width="17.8" height="1.7" rx=".8" fill="#fff"/><path fill="none" stroke="#fff" stroke-width=".9" stroke-linecap="round" d="M-1.4 -4.2Q-2.6 -6 -1.2 -7.4Q0.2 -8.8 -1 -10.6"/></g>
<g transform="translate(354.6 568.8)"><circle r="15.2" fill="#9c9c9c"/><path fill="#fff" d="M0 -9L10.2 0.6H-10.2Z"/><path fill="#9c9c9c" d="M0 -4.8L3.9 -1H-3.9Z"/><path fill="#fff" d="M-8.2 0.4H-6.2V8.6H-8.2ZM6.2 0.4H8.2V8.6H6.2Z"/><rect x="-8.2" y="0.4" width="16.4" height="1.6" fill="#fff"/></g>
<g transform="translate(345 680.6)"><circle r="15.2" fill="#9c9c9c"/><path fill="#fff" d="M-1.6 -10.4H1.6V-8.8H4.4L5 -7H-5L-4.4 -8.8H-1.6Z"/><path fill="#fff" d="M-8.8 -6.2H8.8L6.6 0.6H-6.6Z"/><path fill="none" stroke="#9c9c9c" stroke-width=".7" d="M-7.6 -3H7.6M-4.6 -5.6L-3.4 0M0 -5.6V0M4.6 -5.6L3.4 0"/><path fill="#fff" d="M-5.8 1.4H5.8L4.6 5H-4.6ZM-4.8 5.8H4.8V11.6H-4.8Z"/><path fill="none" stroke="#fff" stroke-width=".6" d="M-7.4 -12V-7.6M-8.8 -11V-7.6M7.4 -12V-7.6M8.8 -11V-7.6"/></g>
<g transform="translate(287.2 688.7)"><circle r="15.2" fill="#9c9c9c"/><path fill="#fff" d="M-2.6 -8.2Q-2.6 -9 -1.8 -9H6.6Q7.4 -9 7.4 -8.2V8.8H-2.6Z"/><rect x="-1" y="-7.2" width="6.8" height="4.6" rx=".6" fill="#9c9c9c"/><path fill="none" stroke="#fff" stroke-width="1" stroke-linecap="round" d="M-2.6 -4.6Q-4.6 -4.2 -5 -1.4L-7.4 4.2Q-8.4 7.2 -6.6 7.8Q-4.8 8.2 -4.4 5.6L-3.4 1.2"/></g>
<g transform="translate(1387.4 537.4)"><circle r="15.2" fill="#9c9c9c"/><path fill="#fff" d="M-7.2 -9.8H7.2V9.8H-7.2Z"/><circle cx="0" cy="1.6" r="5.2" fill="#9c9c9c"/><circle cx="0" cy="1.6" r="3.9" fill="#fff"/><rect x="-7.2" y="-6.6" width="14.4" height=".8" fill="#9c9c9c"/></g>
<g transform="translate(1291.9 613.3)"><circle r="15.2" fill="#9c9c9c"/><rect x="-4.6" y="-5.1" width="11.7" height="8" fill="#8d8d8d"/><path fill="#fff" d="M-5.9 -6.4H8.4V5H7.1V-5.1H-4.6V5H-5.9Z"/><path fill="#fff" d="M-11.3 2.9H-4.4L-2.9 0.3H3.9L5.4 2.9H11.2L7 7.3H-6.6Z"/><rect x="-1" y="1.1" width="3.2" height=".7" fill="#9c9c9c"/></g>
<g transform="translate(1342.6 610.2)"><circle r="15.2" fill="#9c9c9c"/><g transform="rotate(-45)"><path fill="#fff" d="M-1.8 -13.25A4.8 4.8 0 1 0 1.8 -13.25V-9.4L0 -8.2L-1.8 -9.4Z"/><rect x="-2" y="-5.5" width="4" height="12" fill="#fff"/><circle cx="0" cy="8.6" r="3.4" fill="#fff"/><circle cx="0" cy="8.8" r="1.35" fill="#9c9c9c"/></g></g>
<path fill="#e3142c" d="M1104.9 9.7H1122.2L1113.5 40.2Z"/>
<rect x="-3" y="27.6" width="264.8" height="261" fill="#fff"/>
<rect x="-3" y="27.6" width="264.8" height="261" fill="none" stroke="#cfe7f7" stroke-width="1"/>
<rect x="-3" y="33.6" width="258.6" height="247.8" fill="none" stroke="#a9d6f4" stroke-width="2.4"/>
<path fill="none" stroke="#80b3db" stroke-width=".8" d="M0 74.2H244M0 86.5H244M0 98.8H244M0 111.1H244M0 123.4H244M0 135.7H244M0 148H244M0 160.3H244M0 172.6H244M0 184.9H244M0 197.2H244M0 209.5H244M0 221.8H244M0 234.1H244M0 246.4H244M0 258.7H244"/>
<path fill="none" stroke="#80b3db" stroke-width="1.3" d="M95.9 44V275"/>
<rect x="-1" y="64" width="30.3" height="8.7" fill="#e63323"/>
<rect x="-1" y="76.3" width="30.3" height="8.7" fill="#ef9599"/>
<rect x="-1" y="88.6" width="30.3" height="8.7" fill="#99c9ee"/>
<rect x="-1" y="100.9" width="30.3" height="8.7" fill="#a9c3d4"/>
<rect x="-1" y="113.2" width="30.3" height="8.7" fill="#f0922b"/>
<rect x="-1" y="125.5" width="30.3" height="8.7" fill="#8d8cc6"/>
<rect x="-1" y="137.8" width="30.3" height="8.7" fill="#fdc626"/>
<rect x="-1" y="150.1" width="30.3" height="8.7" fill="#ef9599"/>
<rect x="-1" y="162.4" width="30.3" height="8.7" fill="#cd2017"/>
<rect x="-1" y="174.7" width="30.3" height="8.7" fill="#077b9e"/>
<rect x="-1" y="187" width="30.3" height="8.7" fill="#f194c0"/>
<rect x="-1" y="199.3" width="30.3" height="8.7" fill="#9a70b2"/>
<rect x="-1" y="211.6" width="30.3" height="8.7" fill="#2f2878"/>
<rect x="-1" y="223.9" width="30.3" height="8.7" fill="#2f2878"/>
<rect x="-1" y="236.2" width="30.3" height="8.7" fill="#dfe032"/>
<rect x="-1" y="248.5" width="30.3" height="8.7" fill="#c3c31f"/>
<rect x="-1" y="260.8" width="30.3" height="8.7" fill="#e6007e"/>
<g font-size="11.3" fill="#8bbce0" stroke="#8bbce0" stroke-width=".25">
<text x="0.6" y="53.4" textLength="42.4" lengthAdjust="spacingAndGlyphs">Categoria</text>
<text x="111.8" y="53.4" textLength="124.2" lengthAdjust="spacingAndGlyphs">Dimensione posto barca (m)</text>
</g>
<g font-size="9.1" fill="#8bbce0" stroke="#8bbce0" stroke-width=".2">
<text transform="translate(41.7 70.9) scale(.85 1)">III</text>
<text transform="translate(174.2 70.9) scale(.85 1)" text-anchor="middle">10,0 x 3,5</text>
<text transform="translate(41.7 83.2) scale(.85 1)">III bis</text>
<text transform="translate(174.2 83.2) scale(.85 1)" text-anchor="middle">11,0 x 4,0</text>
<text transform="translate(41.7 95.5) scale(.85 1)">IV</text>
<text transform="translate(174.2 95.5) scale(.85 1)" text-anchor="middle">12,0 x 4,3</text>
<text transform="translate(41.7 107.8) scale(.85 1)">IV bis</text>
<text transform="translate(174.2 107.8) scale(.85 1)" text-anchor="middle">13,0 x 4,3</text>
<text transform="translate(41.7 120.1) scale(.85 1)">V</text>
<text transform="translate(174.2 120.1) scale(.85 1)" text-anchor="middle">14,0 x 4,5</text>
<text transform="translate(41.7 132.4) scale(.85 1)">V bis</text>
<text transform="translate(174.2 132.4) scale(.85 1)" text-anchor="middle">16,0 x 5,0</text>
<text transform="translate(41.7 144.7) scale(.85 1)">VI</text>
<text transform="translate(174.2 144.7) scale(.85 1)" text-anchor="middle">18,0 x 5,5</text>
<text transform="translate(41.7 157) scale(.85 1)">VI bis</text>
<text transform="translate(174.2 157) scale(.85 1)" text-anchor="middle">20,0 x 5,8</text>
<text transform="translate(41.7 169.3) scale(.85 1)">VII</text>
<text transform="translate(174.2 169.3) scale(.85 1)" text-anchor="middle">21,0 x 6,0</text>
<text transform="translate(41.7 181.6) scale(.85 1)">VIII</text>
<text transform="translate(174.2 181.6) scale(.85 1)" text-anchor="middle">24,0 x 6,5</text>
<text transform="translate(41.7 193.9) scale(.85 1)">IX</text>
<text transform="translate(174.2 193.9) scale(.85 1)" text-anchor="middle">28,0 x 7,0</text>
<text transform="translate(41.7 206.2) scale(.85 1)">X</text>
<text transform="translate(174.2 206.2) scale(.85 1)" text-anchor="middle">32,0 x 7,5</text>
<text transform="translate(41.7 218.5) scale(.85 1)">XI</text>
<text transform="translate(174.2 218.5) scale(.85 1)" text-anchor="middle">36,0 x 8,0</text>
<text transform="translate(41.7 230.8) scale(.85 1)">XI bis</text>
<text transform="translate(174.2 230.8) scale(.85 1)" text-anchor="middle">45,0x 9,0</text>
<text transform="translate(41.7 243.1) scale(.85 1)">XII</text>
<text transform="translate(174.2 243.1) scale(.85 1)" text-anchor="middle">50,0 x 10,0</text>
<text transform="translate(41.7 255.4) scale(.85 1)">XIII</text>
<text transform="translate(174.2 255.4) scale(.85 1)" text-anchor="middle">60,0 x 12,0</text>
<text transform="translate(41.7 267.7) scale(.85 1)">XIV</text>
<text transform="translate(174.2 267.7) scale(.85 1)" text-anchor="middle">fino a 100</text>
</g>
<g fill="#fff" fill-opacity=".36"><path d="M1197 24.5Q1197 21.8 1199.8 21.2Q1212 18.6 1224 21.2Q1226.8 21.8 1226.8 24.5V29.6Q1219.5 32.2 1212 30.2Q1204.5 28.2 1197 30.8Z"/><path d="M1197 33.4Q1204.5 30.8 1212 32.8Q1219.5 34.8 1226.8 32.2V38.1Q1226.8 40.8 1224 41.4Q1212 44 1199.8 41.4Q1197 40.8 1197 38.1Z"/></g>
<text x="1240.5" y="39.4" font-size="22.6" fill="#fff" fill-opacity=".38" textLength="142" lengthAdjust="spacingAndGlyphs" letter-spacing="1.2">2YACHTS</text>
</svg>
</body>
</html>
